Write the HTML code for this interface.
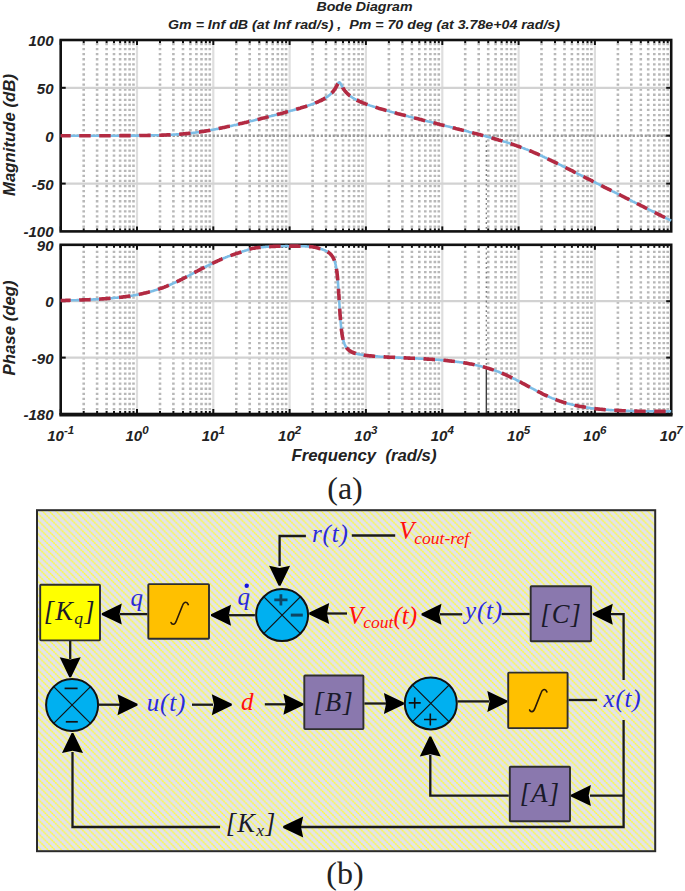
<!DOCTYPE html>
<html><head><meta charset="utf-8"><title>Bode and block diagram</title>
<style>html,body{margin:0;padding:0;background:#fff;width:685px;height:891px;overflow:hidden;}svg{display:block;}</style>
</head><body>
<svg width="685" height="891" viewBox="0 0 685 891">
<defs>
<pattern id="hatch" patternUnits="userSpaceOnUse" x="0.5" y="0" width="6.8" height="6.8">
<rect width="6.8" height="6.8" fill="#e3e3ea"/>
<path d="M-1 -1L7.8 7.8M-1 5.8L1 7.8M5.8 -1L7.8 1" stroke="#f4f47a" stroke-width="1.1"/>
<rect x="0.20" y="0.20" width="1.3" height="1.3" fill="#ffff30"/><rect x="1.90" y="1.90" width="1.3" height="1.3" fill="#ffff30"/><rect x="3.60" y="3.60" width="1.3" height="1.3" fill="#ffff30"/><rect x="5.30" y="5.30" width="1.3" height="1.3" fill="#ffff30"/>
</pattern>
</defs>
<style>
.mn{fill:none;stroke:#b8b8b8;stroke-width:2.6;stroke-dasharray:2.3 2.77;}
.mnd{stroke:#777;stroke-width:1.3;stroke-dasharray:1.8 3;}
.mj{stroke:#dedede;stroke-width:2.2;}
.mh{stroke:#d2d2d2;stroke-width:2.2;}
.zd{stroke:#9a9a9a;stroke-width:2.6;stroke-dasharray:2.2 1.8;}
.tk{stroke:#111;stroke-width:2;}
.fr{fill:none;stroke:#111;stroke-width:2.6;}
.cb{fill:none;stroke:#7dbde6;stroke-width:2.6;stroke-linejoin:round;}
.cr{fill:none;stroke:#b32a42;stroke-width:3.6;stroke-dasharray:11.5 8.5;stroke-dashoffset:1.5;}
text{font-family:"Liberation Sans",sans-serif;}
.tl{font-size:15px;font-weight:bold;font-style:italic;fill:#222;}
.sup{font-size:11.5px;}
.al{font-size:16.5px;font-weight:bold;font-style:italic;fill:#222;}
.tt{font-size:12.5px;font-weight:bold;font-style:italic;fill:#222;}
.cap{font-family:"Liberation Serif",serif;font-size:32px;fill:#222;}
.ln{fill:none;stroke:#1a1a1a;stroke-width:2.3;}
.ah{fill:#000;}
.xl{stroke:#111;stroke-width:1.2;}
.sg{stroke:#0a2a40;stroke-width:2.2;fill:none;}
.bl,.rd,.bk{font-family:"Liberation Serif",serif;font-style:italic;font-size:25px;}
.bl{fill:#2a2ad8;letter-spacing:0.8px;}
.rd{fill:#ff1010;}
.bk{fill:#1a1a2a;}
.ig{fill:none;stroke:#2a1a08;stroke-width:1.6;stroke-linecap:round;}
.lb{font-size:26.5px;letter-spacing:1.2px;}
.sb{font-size:17.5px;}
</style>
<rect width="685" height="891" fill="#fff"/>
<path d="M83.7 42.91V230.4M97.1 42.91V230.4M106.6 42.91V230.4M114.0 42.91V230.4M120.1 42.91V230.4M125.2 42.91V230.4M129.6 42.91V230.4M133.5 42.91V230.4M160.0 42.91V230.4M173.4 42.91V230.4M183.0 42.91V230.4M190.4 42.91V230.4M196.4 42.91V230.4M201.5 42.91V230.4M205.9 42.91V230.4M209.8 42.91V230.4M236.3 42.91V230.4M249.7 42.91V230.4M259.3 42.91V230.4M266.7 42.91V230.4M272.7 42.91V230.4M277.8 42.91V230.4M282.2 42.91V230.4M286.1 42.91V230.4M312.6 42.91V230.4M326.0 42.91V230.4M335.6 42.91V230.4M343.0 42.91V230.4M349.0 42.91V230.4M354.1 42.91V230.4M358.6 42.91V230.4M362.5 42.91V230.4M388.9 42.91V230.4M402.4 42.91V230.4M411.9 42.91V230.4M419.3 42.91V230.4M425.3 42.91V230.4M430.4 42.91V230.4M434.9 42.91V230.4M438.8 42.91V230.4M465.2 42.91V230.4M478.7 42.91V230.4M488.2 42.91V230.4M495.6 42.91V230.4M501.6 42.91V230.4M506.8 42.91V230.4M511.2 42.91V230.4M515.1 42.91V230.4M541.5 42.91V230.4M555.0 42.91V230.4M564.5 42.91V230.4M571.9 42.91V230.4M578.0 42.91V230.4M583.1 42.91V230.4M587.5 42.91V230.4M591.4 42.91V230.4M617.9 42.91V230.4M631.3 42.91V230.4M640.8 42.91V230.4M648.2 42.91V230.4M654.3 42.91V230.4M659.4 42.91V230.4M663.8 42.91V230.4M667.7 42.91V230.4" class="mn"/>
<line x1="137.0" y1="40.0" x2="137.0" y2="231.4" class="mj"/>
<line x1="213.3" y1="40.0" x2="213.3" y2="231.4" class="mj"/>
<line x1="289.6" y1="40.0" x2="289.6" y2="231.4" class="mj"/>
<line x1="365.9" y1="40.0" x2="365.9" y2="231.4" class="mj"/>
<line x1="442.3" y1="40.0" x2="442.3" y2="231.4" class="mj"/>
<line x1="518.6" y1="40.0" x2="518.6" y2="231.4" class="mj"/>
<line x1="594.9" y1="40.0" x2="594.9" y2="231.4" class="mj"/>
<line x1="60.7" y1="87.8" x2="671.2" y2="87.8" class="mh"/>
<line x1="60.7" y1="183.6" x2="671.2" y2="183.6" class="mh"/>
<line x1="60.7" y1="135.7" x2="671.2" y2="135.7" class="zd"/>
<line x1="60.7" y1="40.0" x2="60.7" y2="45.0" class="tk"/>
<line x1="60.7" y1="231.4" x2="60.7" y2="226.4" class="tk"/>
<line x1="83.7" y1="40.0" x2="83.7" y2="43.0" class="tk"/>
<line x1="83.7" y1="231.4" x2="83.7" y2="228.4" class="tk"/>
<line x1="97.1" y1="40.0" x2="97.1" y2="43.0" class="tk"/>
<line x1="97.1" y1="231.4" x2="97.1" y2="228.4" class="tk"/>
<line x1="106.6" y1="40.0" x2="106.6" y2="43.0" class="tk"/>
<line x1="106.6" y1="231.4" x2="106.6" y2="228.4" class="tk"/>
<line x1="114.0" y1="40.0" x2="114.0" y2="43.0" class="tk"/>
<line x1="114.0" y1="231.4" x2="114.0" y2="228.4" class="tk"/>
<line x1="120.1" y1="40.0" x2="120.1" y2="43.0" class="tk"/>
<line x1="120.1" y1="231.4" x2="120.1" y2="228.4" class="tk"/>
<line x1="125.2" y1="40.0" x2="125.2" y2="43.0" class="tk"/>
<line x1="125.2" y1="231.4" x2="125.2" y2="228.4" class="tk"/>
<line x1="129.6" y1="40.0" x2="129.6" y2="43.0" class="tk"/>
<line x1="129.6" y1="231.4" x2="129.6" y2="228.4" class="tk"/>
<line x1="133.5" y1="40.0" x2="133.5" y2="43.0" class="tk"/>
<line x1="133.5" y1="231.4" x2="133.5" y2="228.4" class="tk"/>
<line x1="137.0" y1="40.0" x2="137.0" y2="45.0" class="tk"/>
<line x1="137.0" y1="231.4" x2="137.0" y2="226.4" class="tk"/>
<line x1="160.0" y1="40.0" x2="160.0" y2="43.0" class="tk"/>
<line x1="160.0" y1="231.4" x2="160.0" y2="228.4" class="tk"/>
<line x1="173.4" y1="40.0" x2="173.4" y2="43.0" class="tk"/>
<line x1="173.4" y1="231.4" x2="173.4" y2="228.4" class="tk"/>
<line x1="183.0" y1="40.0" x2="183.0" y2="43.0" class="tk"/>
<line x1="183.0" y1="231.4" x2="183.0" y2="228.4" class="tk"/>
<line x1="190.4" y1="40.0" x2="190.4" y2="43.0" class="tk"/>
<line x1="190.4" y1="231.4" x2="190.4" y2="228.4" class="tk"/>
<line x1="196.4" y1="40.0" x2="196.4" y2="43.0" class="tk"/>
<line x1="196.4" y1="231.4" x2="196.4" y2="228.4" class="tk"/>
<line x1="201.5" y1="40.0" x2="201.5" y2="43.0" class="tk"/>
<line x1="201.5" y1="231.4" x2="201.5" y2="228.4" class="tk"/>
<line x1="205.9" y1="40.0" x2="205.9" y2="43.0" class="tk"/>
<line x1="205.9" y1="231.4" x2="205.9" y2="228.4" class="tk"/>
<line x1="209.8" y1="40.0" x2="209.8" y2="43.0" class="tk"/>
<line x1="209.8" y1="231.4" x2="209.8" y2="228.4" class="tk"/>
<line x1="213.3" y1="40.0" x2="213.3" y2="45.0" class="tk"/>
<line x1="213.3" y1="231.4" x2="213.3" y2="226.4" class="tk"/>
<line x1="236.3" y1="40.0" x2="236.3" y2="43.0" class="tk"/>
<line x1="236.3" y1="231.4" x2="236.3" y2="228.4" class="tk"/>
<line x1="249.7" y1="40.0" x2="249.7" y2="43.0" class="tk"/>
<line x1="249.7" y1="231.4" x2="249.7" y2="228.4" class="tk"/>
<line x1="259.3" y1="40.0" x2="259.3" y2="43.0" class="tk"/>
<line x1="259.3" y1="231.4" x2="259.3" y2="228.4" class="tk"/>
<line x1="266.7" y1="40.0" x2="266.7" y2="43.0" class="tk"/>
<line x1="266.7" y1="231.4" x2="266.7" y2="228.4" class="tk"/>
<line x1="272.7" y1="40.0" x2="272.7" y2="43.0" class="tk"/>
<line x1="272.7" y1="231.4" x2="272.7" y2="228.4" class="tk"/>
<line x1="277.8" y1="40.0" x2="277.8" y2="43.0" class="tk"/>
<line x1="277.8" y1="231.4" x2="277.8" y2="228.4" class="tk"/>
<line x1="282.2" y1="40.0" x2="282.2" y2="43.0" class="tk"/>
<line x1="282.2" y1="231.4" x2="282.2" y2="228.4" class="tk"/>
<line x1="286.1" y1="40.0" x2="286.1" y2="43.0" class="tk"/>
<line x1="286.1" y1="231.4" x2="286.1" y2="228.4" class="tk"/>
<line x1="289.6" y1="40.0" x2="289.6" y2="45.0" class="tk"/>
<line x1="289.6" y1="231.4" x2="289.6" y2="226.4" class="tk"/>
<line x1="312.6" y1="40.0" x2="312.6" y2="43.0" class="tk"/>
<line x1="312.6" y1="231.4" x2="312.6" y2="228.4" class="tk"/>
<line x1="326.0" y1="40.0" x2="326.0" y2="43.0" class="tk"/>
<line x1="326.0" y1="231.4" x2="326.0" y2="228.4" class="tk"/>
<line x1="335.6" y1="40.0" x2="335.6" y2="43.0" class="tk"/>
<line x1="335.6" y1="231.4" x2="335.6" y2="228.4" class="tk"/>
<line x1="343.0" y1="40.0" x2="343.0" y2="43.0" class="tk"/>
<line x1="343.0" y1="231.4" x2="343.0" y2="228.4" class="tk"/>
<line x1="349.0" y1="40.0" x2="349.0" y2="43.0" class="tk"/>
<line x1="349.0" y1="231.4" x2="349.0" y2="228.4" class="tk"/>
<line x1="354.1" y1="40.0" x2="354.1" y2="43.0" class="tk"/>
<line x1="354.1" y1="231.4" x2="354.1" y2="228.4" class="tk"/>
<line x1="358.6" y1="40.0" x2="358.6" y2="43.0" class="tk"/>
<line x1="358.6" y1="231.4" x2="358.6" y2="228.4" class="tk"/>
<line x1="362.5" y1="40.0" x2="362.5" y2="43.0" class="tk"/>
<line x1="362.5" y1="231.4" x2="362.5" y2="228.4" class="tk"/>
<line x1="365.9" y1="40.0" x2="365.9" y2="45.0" class="tk"/>
<line x1="365.9" y1="231.4" x2="365.9" y2="226.4" class="tk"/>
<line x1="388.9" y1="40.0" x2="388.9" y2="43.0" class="tk"/>
<line x1="388.9" y1="231.4" x2="388.9" y2="228.4" class="tk"/>
<line x1="402.4" y1="40.0" x2="402.4" y2="43.0" class="tk"/>
<line x1="402.4" y1="231.4" x2="402.4" y2="228.4" class="tk"/>
<line x1="411.9" y1="40.0" x2="411.9" y2="43.0" class="tk"/>
<line x1="411.9" y1="231.4" x2="411.9" y2="228.4" class="tk"/>
<line x1="419.3" y1="40.0" x2="419.3" y2="43.0" class="tk"/>
<line x1="419.3" y1="231.4" x2="419.3" y2="228.4" class="tk"/>
<line x1="425.3" y1="40.0" x2="425.3" y2="43.0" class="tk"/>
<line x1="425.3" y1="231.4" x2="425.3" y2="228.4" class="tk"/>
<line x1="430.4" y1="40.0" x2="430.4" y2="43.0" class="tk"/>
<line x1="430.4" y1="231.4" x2="430.4" y2="228.4" class="tk"/>
<line x1="434.9" y1="40.0" x2="434.9" y2="43.0" class="tk"/>
<line x1="434.9" y1="231.4" x2="434.9" y2="228.4" class="tk"/>
<line x1="438.8" y1="40.0" x2="438.8" y2="43.0" class="tk"/>
<line x1="438.8" y1="231.4" x2="438.8" y2="228.4" class="tk"/>
<line x1="442.3" y1="40.0" x2="442.3" y2="45.0" class="tk"/>
<line x1="442.3" y1="231.4" x2="442.3" y2="226.4" class="tk"/>
<line x1="465.2" y1="40.0" x2="465.2" y2="43.0" class="tk"/>
<line x1="465.2" y1="231.4" x2="465.2" y2="228.4" class="tk"/>
<line x1="478.7" y1="40.0" x2="478.7" y2="43.0" class="tk"/>
<line x1="478.7" y1="231.4" x2="478.7" y2="228.4" class="tk"/>
<line x1="488.2" y1="40.0" x2="488.2" y2="43.0" class="tk"/>
<line x1="488.2" y1="231.4" x2="488.2" y2="228.4" class="tk"/>
<line x1="495.6" y1="40.0" x2="495.6" y2="43.0" class="tk"/>
<line x1="495.6" y1="231.4" x2="495.6" y2="228.4" class="tk"/>
<line x1="501.6" y1="40.0" x2="501.6" y2="43.0" class="tk"/>
<line x1="501.6" y1="231.4" x2="501.6" y2="228.4" class="tk"/>
<line x1="506.8" y1="40.0" x2="506.8" y2="43.0" class="tk"/>
<line x1="506.8" y1="231.4" x2="506.8" y2="228.4" class="tk"/>
<line x1="511.2" y1="40.0" x2="511.2" y2="43.0" class="tk"/>
<line x1="511.2" y1="231.4" x2="511.2" y2="228.4" class="tk"/>
<line x1="515.1" y1="40.0" x2="515.1" y2="43.0" class="tk"/>
<line x1="515.1" y1="231.4" x2="515.1" y2="228.4" class="tk"/>
<line x1="518.6" y1="40.0" x2="518.6" y2="45.0" class="tk"/>
<line x1="518.6" y1="231.4" x2="518.6" y2="226.4" class="tk"/>
<line x1="541.5" y1="40.0" x2="541.5" y2="43.0" class="tk"/>
<line x1="541.5" y1="231.4" x2="541.5" y2="228.4" class="tk"/>
<line x1="555.0" y1="40.0" x2="555.0" y2="43.0" class="tk"/>
<line x1="555.0" y1="231.4" x2="555.0" y2="228.4" class="tk"/>
<line x1="564.5" y1="40.0" x2="564.5" y2="43.0" class="tk"/>
<line x1="564.5" y1="231.4" x2="564.5" y2="228.4" class="tk"/>
<line x1="571.9" y1="40.0" x2="571.9" y2="43.0" class="tk"/>
<line x1="571.9" y1="231.4" x2="571.9" y2="228.4" class="tk"/>
<line x1="578.0" y1="40.0" x2="578.0" y2="43.0" class="tk"/>
<line x1="578.0" y1="231.4" x2="578.0" y2="228.4" class="tk"/>
<line x1="583.1" y1="40.0" x2="583.1" y2="43.0" class="tk"/>
<line x1="583.1" y1="231.4" x2="583.1" y2="228.4" class="tk"/>
<line x1="587.5" y1="40.0" x2="587.5" y2="43.0" class="tk"/>
<line x1="587.5" y1="231.4" x2="587.5" y2="228.4" class="tk"/>
<line x1="591.4" y1="40.0" x2="591.4" y2="43.0" class="tk"/>
<line x1="591.4" y1="231.4" x2="591.4" y2="228.4" class="tk"/>
<line x1="594.9" y1="40.0" x2="594.9" y2="45.0" class="tk"/>
<line x1="594.9" y1="231.4" x2="594.9" y2="226.4" class="tk"/>
<line x1="617.9" y1="40.0" x2="617.9" y2="43.0" class="tk"/>
<line x1="617.9" y1="231.4" x2="617.9" y2="228.4" class="tk"/>
<line x1="631.3" y1="40.0" x2="631.3" y2="43.0" class="tk"/>
<line x1="631.3" y1="231.4" x2="631.3" y2="228.4" class="tk"/>
<line x1="640.8" y1="40.0" x2="640.8" y2="43.0" class="tk"/>
<line x1="640.8" y1="231.4" x2="640.8" y2="228.4" class="tk"/>
<line x1="648.2" y1="40.0" x2="648.2" y2="43.0" class="tk"/>
<line x1="648.2" y1="231.4" x2="648.2" y2="228.4" class="tk"/>
<line x1="654.3" y1="40.0" x2="654.3" y2="43.0" class="tk"/>
<line x1="654.3" y1="231.4" x2="654.3" y2="228.4" class="tk"/>
<line x1="659.4" y1="40.0" x2="659.4" y2="43.0" class="tk"/>
<line x1="659.4" y1="231.4" x2="659.4" y2="228.4" class="tk"/>
<line x1="663.8" y1="40.0" x2="663.8" y2="43.0" class="tk"/>
<line x1="663.8" y1="231.4" x2="663.8" y2="228.4" class="tk"/>
<line x1="667.7" y1="40.0" x2="667.7" y2="43.0" class="tk"/>
<line x1="667.7" y1="231.4" x2="667.7" y2="228.4" class="tk"/>
<line x1="60.7" y1="87.8" x2="65.7" y2="87.8" class="tk"/>
<line x1="671.2" y1="87.8" x2="666.2" y2="87.8" class="tk"/>
<line x1="60.7" y1="135.7" x2="65.7" y2="135.7" class="tk"/>
<line x1="671.2" y1="135.7" x2="666.2" y2="135.7" class="tk"/>
<line x1="60.7" y1="183.6" x2="65.7" y2="183.6" class="tk"/>
<line x1="671.2" y1="183.6" x2="666.2" y2="183.6" class="tk"/>
<path d="M83.7 250.73V413.0M97.1 250.73V413.0M106.6 250.73V413.0M114.0 250.73V413.0M120.1 250.73V413.0M125.2 250.73V413.0M129.6 250.73V413.0M133.5 250.73V413.0M160.0 250.73V413.0M173.4 250.73V413.0M183.0 250.73V413.0M190.4 250.73V413.0M196.4 250.73V413.0M201.5 250.73V413.0M205.9 250.73V413.0M209.8 250.73V413.0M236.3 250.73V413.0M249.7 250.73V413.0M259.3 250.73V413.0M266.7 250.73V413.0M272.7 250.73V413.0M277.8 250.73V413.0M282.2 250.73V413.0M286.1 250.73V413.0M312.6 250.73V413.0M326.0 250.73V413.0M335.6 250.73V413.0M343.0 250.73V413.0M349.0 250.73V413.0M354.1 250.73V413.0M358.6 250.73V413.0M362.5 250.73V413.0M388.9 250.73V413.0M402.4 250.73V413.0M411.9 250.73V413.0M419.3 250.73V413.0M425.3 250.73V413.0M430.4 250.73V413.0M434.9 250.73V413.0M438.8 250.73V413.0M465.2 250.73V413.0M478.7 250.73V413.0M488.2 250.73V413.0M495.6 250.73V413.0M501.6 250.73V413.0M506.8 250.73V413.0M511.2 250.73V413.0M515.1 250.73V413.0M541.5 250.73V413.0M555.0 250.73V413.0M564.5 250.73V413.0M571.9 250.73V413.0M578.0 250.73V413.0M583.1 250.73V413.0M587.5 250.73V413.0M591.4 250.73V413.0M617.9 250.73V413.0M631.3 250.73V413.0M640.8 250.73V413.0M648.2 250.73V413.0M654.3 250.73V413.0M659.4 250.73V413.0M663.8 250.73V413.0M667.7 250.73V413.0" class="mn"/>
<line x1="137.0" y1="244.8" x2="137.0" y2="414.0" class="mj"/>
<line x1="213.3" y1="244.8" x2="213.3" y2="414.0" class="mj"/>
<line x1="289.6" y1="244.8" x2="289.6" y2="414.0" class="mj"/>
<line x1="365.9" y1="244.8" x2="365.9" y2="414.0" class="mj"/>
<line x1="442.3" y1="244.8" x2="442.3" y2="414.0" class="mj"/>
<line x1="518.6" y1="244.8" x2="518.6" y2="414.0" class="mj"/>
<line x1="594.9" y1="244.8" x2="594.9" y2="414.0" class="mj"/>
<line x1="60.7" y1="301.2" x2="671.2" y2="301.2" class="mh"/>
<line x1="60.7" y1="357.6" x2="671.2" y2="357.6" class="mh"/>
<line x1="60.7" y1="244.8" x2="60.7" y2="249.8" class="tk"/>
<line x1="60.7" y1="414.0" x2="60.7" y2="409.0" class="tk"/>
<line x1="83.7" y1="244.8" x2="83.7" y2="247.8" class="tk"/>
<line x1="83.7" y1="414.0" x2="83.7" y2="411.0" class="tk"/>
<line x1="97.1" y1="244.8" x2="97.1" y2="247.8" class="tk"/>
<line x1="97.1" y1="414.0" x2="97.1" y2="411.0" class="tk"/>
<line x1="106.6" y1="244.8" x2="106.6" y2="247.8" class="tk"/>
<line x1="106.6" y1="414.0" x2="106.6" y2="411.0" class="tk"/>
<line x1="114.0" y1="244.8" x2="114.0" y2="247.8" class="tk"/>
<line x1="114.0" y1="414.0" x2="114.0" y2="411.0" class="tk"/>
<line x1="120.1" y1="244.8" x2="120.1" y2="247.8" class="tk"/>
<line x1="120.1" y1="414.0" x2="120.1" y2="411.0" class="tk"/>
<line x1="125.2" y1="244.8" x2="125.2" y2="247.8" class="tk"/>
<line x1="125.2" y1="414.0" x2="125.2" y2="411.0" class="tk"/>
<line x1="129.6" y1="244.8" x2="129.6" y2="247.8" class="tk"/>
<line x1="129.6" y1="414.0" x2="129.6" y2="411.0" class="tk"/>
<line x1="133.5" y1="244.8" x2="133.5" y2="247.8" class="tk"/>
<line x1="133.5" y1="414.0" x2="133.5" y2="411.0" class="tk"/>
<line x1="137.0" y1="244.8" x2="137.0" y2="249.8" class="tk"/>
<line x1="137.0" y1="414.0" x2="137.0" y2="409.0" class="tk"/>
<line x1="160.0" y1="244.8" x2="160.0" y2="247.8" class="tk"/>
<line x1="160.0" y1="414.0" x2="160.0" y2="411.0" class="tk"/>
<line x1="173.4" y1="244.8" x2="173.4" y2="247.8" class="tk"/>
<line x1="173.4" y1="414.0" x2="173.4" y2="411.0" class="tk"/>
<line x1="183.0" y1="244.8" x2="183.0" y2="247.8" class="tk"/>
<line x1="183.0" y1="414.0" x2="183.0" y2="411.0" class="tk"/>
<line x1="190.4" y1="244.8" x2="190.4" y2="247.8" class="tk"/>
<line x1="190.4" y1="414.0" x2="190.4" y2="411.0" class="tk"/>
<line x1="196.4" y1="244.8" x2="196.4" y2="247.8" class="tk"/>
<line x1="196.4" y1="414.0" x2="196.4" y2="411.0" class="tk"/>
<line x1="201.5" y1="244.8" x2="201.5" y2="247.8" class="tk"/>
<line x1="201.5" y1="414.0" x2="201.5" y2="411.0" class="tk"/>
<line x1="205.9" y1="244.8" x2="205.9" y2="247.8" class="tk"/>
<line x1="205.9" y1="414.0" x2="205.9" y2="411.0" class="tk"/>
<line x1="209.8" y1="244.8" x2="209.8" y2="247.8" class="tk"/>
<line x1="209.8" y1="414.0" x2="209.8" y2="411.0" class="tk"/>
<line x1="213.3" y1="244.8" x2="213.3" y2="249.8" class="tk"/>
<line x1="213.3" y1="414.0" x2="213.3" y2="409.0" class="tk"/>
<line x1="236.3" y1="244.8" x2="236.3" y2="247.8" class="tk"/>
<line x1="236.3" y1="414.0" x2="236.3" y2="411.0" class="tk"/>
<line x1="249.7" y1="244.8" x2="249.7" y2="247.8" class="tk"/>
<line x1="249.7" y1="414.0" x2="249.7" y2="411.0" class="tk"/>
<line x1="259.3" y1="244.8" x2="259.3" y2="247.8" class="tk"/>
<line x1="259.3" y1="414.0" x2="259.3" y2="411.0" class="tk"/>
<line x1="266.7" y1="244.8" x2="266.7" y2="247.8" class="tk"/>
<line x1="266.7" y1="414.0" x2="266.7" y2="411.0" class="tk"/>
<line x1="272.7" y1="244.8" x2="272.7" y2="247.8" class="tk"/>
<line x1="272.7" y1="414.0" x2="272.7" y2="411.0" class="tk"/>
<line x1="277.8" y1="244.8" x2="277.8" y2="247.8" class="tk"/>
<line x1="277.8" y1="414.0" x2="277.8" y2="411.0" class="tk"/>
<line x1="282.2" y1="244.8" x2="282.2" y2="247.8" class="tk"/>
<line x1="282.2" y1="414.0" x2="282.2" y2="411.0" class="tk"/>
<line x1="286.1" y1="244.8" x2="286.1" y2="247.8" class="tk"/>
<line x1="286.1" y1="414.0" x2="286.1" y2="411.0" class="tk"/>
<line x1="289.6" y1="244.8" x2="289.6" y2="249.8" class="tk"/>
<line x1="289.6" y1="414.0" x2="289.6" y2="409.0" class="tk"/>
<line x1="312.6" y1="244.8" x2="312.6" y2="247.8" class="tk"/>
<line x1="312.6" y1="414.0" x2="312.6" y2="411.0" class="tk"/>
<line x1="326.0" y1="244.8" x2="326.0" y2="247.8" class="tk"/>
<line x1="326.0" y1="414.0" x2="326.0" y2="411.0" class="tk"/>
<line x1="335.6" y1="244.8" x2="335.6" y2="247.8" class="tk"/>
<line x1="335.6" y1="414.0" x2="335.6" y2="411.0" class="tk"/>
<line x1="343.0" y1="244.8" x2="343.0" y2="247.8" class="tk"/>
<line x1="343.0" y1="414.0" x2="343.0" y2="411.0" class="tk"/>
<line x1="349.0" y1="244.8" x2="349.0" y2="247.8" class="tk"/>
<line x1="349.0" y1="414.0" x2="349.0" y2="411.0" class="tk"/>
<line x1="354.1" y1="244.8" x2="354.1" y2="247.8" class="tk"/>
<line x1="354.1" y1="414.0" x2="354.1" y2="411.0" class="tk"/>
<line x1="358.6" y1="244.8" x2="358.6" y2="247.8" class="tk"/>
<line x1="358.6" y1="414.0" x2="358.6" y2="411.0" class="tk"/>
<line x1="362.5" y1="244.8" x2="362.5" y2="247.8" class="tk"/>
<line x1="362.5" y1="414.0" x2="362.5" y2="411.0" class="tk"/>
<line x1="365.9" y1="244.8" x2="365.9" y2="249.8" class="tk"/>
<line x1="365.9" y1="414.0" x2="365.9" y2="409.0" class="tk"/>
<line x1="388.9" y1="244.8" x2="388.9" y2="247.8" class="tk"/>
<line x1="388.9" y1="414.0" x2="388.9" y2="411.0" class="tk"/>
<line x1="402.4" y1="244.8" x2="402.4" y2="247.8" class="tk"/>
<line x1="402.4" y1="414.0" x2="402.4" y2="411.0" class="tk"/>
<line x1="411.9" y1="244.8" x2="411.9" y2="247.8" class="tk"/>
<line x1="411.9" y1="414.0" x2="411.9" y2="411.0" class="tk"/>
<line x1="419.3" y1="244.8" x2="419.3" y2="247.8" class="tk"/>
<line x1="419.3" y1="414.0" x2="419.3" y2="411.0" class="tk"/>
<line x1="425.3" y1="244.8" x2="425.3" y2="247.8" class="tk"/>
<line x1="425.3" y1="414.0" x2="425.3" y2="411.0" class="tk"/>
<line x1="430.4" y1="244.8" x2="430.4" y2="247.8" class="tk"/>
<line x1="430.4" y1="414.0" x2="430.4" y2="411.0" class="tk"/>
<line x1="434.9" y1="244.8" x2="434.9" y2="247.8" class="tk"/>
<line x1="434.9" y1="414.0" x2="434.9" y2="411.0" class="tk"/>
<line x1="438.8" y1="244.8" x2="438.8" y2="247.8" class="tk"/>
<line x1="438.8" y1="414.0" x2="438.8" y2="411.0" class="tk"/>
<line x1="442.3" y1="244.8" x2="442.3" y2="249.8" class="tk"/>
<line x1="442.3" y1="414.0" x2="442.3" y2="409.0" class="tk"/>
<line x1="465.2" y1="244.8" x2="465.2" y2="247.8" class="tk"/>
<line x1="465.2" y1="414.0" x2="465.2" y2="411.0" class="tk"/>
<line x1="478.7" y1="244.8" x2="478.7" y2="247.8" class="tk"/>
<line x1="478.7" y1="414.0" x2="478.7" y2="411.0" class="tk"/>
<line x1="488.2" y1="244.8" x2="488.2" y2="247.8" class="tk"/>
<line x1="488.2" y1="414.0" x2="488.2" y2="411.0" class="tk"/>
<line x1="495.6" y1="244.8" x2="495.6" y2="247.8" class="tk"/>
<line x1="495.6" y1="414.0" x2="495.6" y2="411.0" class="tk"/>
<line x1="501.6" y1="244.8" x2="501.6" y2="247.8" class="tk"/>
<line x1="501.6" y1="414.0" x2="501.6" y2="411.0" class="tk"/>
<line x1="506.8" y1="244.8" x2="506.8" y2="247.8" class="tk"/>
<line x1="506.8" y1="414.0" x2="506.8" y2="411.0" class="tk"/>
<line x1="511.2" y1="244.8" x2="511.2" y2="247.8" class="tk"/>
<line x1="511.2" y1="414.0" x2="511.2" y2="411.0" class="tk"/>
<line x1="515.1" y1="244.8" x2="515.1" y2="247.8" class="tk"/>
<line x1="515.1" y1="414.0" x2="515.1" y2="411.0" class="tk"/>
<line x1="518.6" y1="244.8" x2="518.6" y2="249.8" class="tk"/>
<line x1="518.6" y1="414.0" x2="518.6" y2="409.0" class="tk"/>
<line x1="541.5" y1="244.8" x2="541.5" y2="247.8" class="tk"/>
<line x1="541.5" y1="414.0" x2="541.5" y2="411.0" class="tk"/>
<line x1="555.0" y1="244.8" x2="555.0" y2="247.8" class="tk"/>
<line x1="555.0" y1="414.0" x2="555.0" y2="411.0" class="tk"/>
<line x1="564.5" y1="244.8" x2="564.5" y2="247.8" class="tk"/>
<line x1="564.5" y1="414.0" x2="564.5" y2="411.0" class="tk"/>
<line x1="571.9" y1="244.8" x2="571.9" y2="247.8" class="tk"/>
<line x1="571.9" y1="414.0" x2="571.9" y2="411.0" class="tk"/>
<line x1="578.0" y1="244.8" x2="578.0" y2="247.8" class="tk"/>
<line x1="578.0" y1="414.0" x2="578.0" y2="411.0" class="tk"/>
<line x1="583.1" y1="244.8" x2="583.1" y2="247.8" class="tk"/>
<line x1="583.1" y1="414.0" x2="583.1" y2="411.0" class="tk"/>
<line x1="587.5" y1="244.8" x2="587.5" y2="247.8" class="tk"/>
<line x1="587.5" y1="414.0" x2="587.5" y2="411.0" class="tk"/>
<line x1="591.4" y1="244.8" x2="591.4" y2="247.8" class="tk"/>
<line x1="591.4" y1="414.0" x2="591.4" y2="411.0" class="tk"/>
<line x1="594.9" y1="244.8" x2="594.9" y2="249.8" class="tk"/>
<line x1="594.9" y1="414.0" x2="594.9" y2="409.0" class="tk"/>
<line x1="617.9" y1="244.8" x2="617.9" y2="247.8" class="tk"/>
<line x1="617.9" y1="414.0" x2="617.9" y2="411.0" class="tk"/>
<line x1="631.3" y1="244.8" x2="631.3" y2="247.8" class="tk"/>
<line x1="631.3" y1="414.0" x2="631.3" y2="411.0" class="tk"/>
<line x1="640.8" y1="244.8" x2="640.8" y2="247.8" class="tk"/>
<line x1="640.8" y1="414.0" x2="640.8" y2="411.0" class="tk"/>
<line x1="648.2" y1="244.8" x2="648.2" y2="247.8" class="tk"/>
<line x1="648.2" y1="414.0" x2="648.2" y2="411.0" class="tk"/>
<line x1="654.3" y1="244.8" x2="654.3" y2="247.8" class="tk"/>
<line x1="654.3" y1="414.0" x2="654.3" y2="411.0" class="tk"/>
<line x1="659.4" y1="244.8" x2="659.4" y2="247.8" class="tk"/>
<line x1="659.4" y1="414.0" x2="659.4" y2="411.0" class="tk"/>
<line x1="663.8" y1="244.8" x2="663.8" y2="247.8" class="tk"/>
<line x1="663.8" y1="414.0" x2="663.8" y2="411.0" class="tk"/>
<line x1="667.7" y1="244.8" x2="667.7" y2="247.8" class="tk"/>
<line x1="667.7" y1="414.0" x2="667.7" y2="411.0" class="tk"/>
<line x1="60.7" y1="301.2" x2="65.7" y2="301.2" class="tk"/>
<line x1="671.2" y1="301.2" x2="666.2" y2="301.2" class="tk"/>
<line x1="60.7" y1="357.6" x2="65.7" y2="357.6" class="tk"/>
<line x1="671.2" y1="357.6" x2="666.2" y2="357.6" class="tk"/>
<line x1="486.3" y1="135.7" x2="486.3" y2="231.4" class="mnd"/>
<line x1="486.3" y1="247.8" x2="486.3" y2="367.7" class="mnd"/>
<line x1="486.3" y1="367.7" x2="486.3" y2="414.0" stroke="#333" stroke-width="1.3"/>
<rect x="60.7" y="40.0" width="610.5" height="191.4" class="fr"/>
<rect x="60.7" y="244.8" width="610.5" height="169.2" class="fr"/>
<line x1="59.4" y1="414.7" x2="672.5" y2="414.7" stroke="#111" stroke-width="3.4"/>
<polyline points="60.7,135.7 61.6,135.7 62.4,135.7 63.3,135.7 64.2,135.7 65.0,135.7 65.9,135.7 66.8,135.7 67.6,135.7 68.5,135.7 69.3,135.7 70.2,135.7 71.1,135.7 71.9,135.7 72.8,135.7 73.7,135.7 74.5,135.7 75.4,135.7 76.3,135.7 77.1,135.7 78.0,135.7 78.9,135.7 79.7,135.7 80.6,135.7 81.5,135.7 82.3,135.7 83.2,135.7 84.1,135.7 84.9,135.7 85.8,135.7 86.6,135.7 87.5,135.7 88.4,135.7 89.2,135.7 90.1,135.7 91.0,135.7 91.8,135.7 92.7,135.7 93.6,135.7 94.4,135.7 95.3,135.7 96.2,135.7 97.0,135.7 97.9,135.7 98.8,135.7 99.6,135.7 100.5,135.7 101.3,135.7 102.2,135.7 103.1,135.7 103.9,135.7 104.8,135.7 105.7,135.7 106.5,135.7 107.4,135.7 108.3,135.7 109.1,135.7 110.0,135.7 110.9,135.7 111.7,135.7 112.6,135.7 113.5,135.7 114.3,135.7 115.2,135.7 116.1,135.7 116.9,135.7 117.8,135.7 118.6,135.7 119.5,135.7 120.4,135.6 121.2,135.6 122.1,135.6 123.0,135.6 123.8,135.6 124.7,135.6 125.6,135.6 126.4,135.6 127.3,135.6 128.2,135.6 129.0,135.6 129.9,135.6 130.8,135.6 131.6,135.6 132.5,135.6 133.3,135.6 134.2,135.6 135.1,135.6 135.9,135.6 136.8,135.6 137.7,135.6 138.5,135.6 139.4,135.5 140.3,135.5 141.1,135.5 142.0,135.5 142.9,135.5 143.7,135.5 144.6,135.5 145.5,135.5 146.3,135.5 147.2,135.5 148.1,135.4 148.9,135.4 149.8,135.4 150.6,135.4 151.5,135.4 152.4,135.4 153.2,135.3 154.1,135.3 155.0,135.3 155.8,135.3 156.7,135.3 157.6,135.3 158.4,135.2 159.3,135.2 160.2,135.2 161.0,135.2 161.9,135.1 162.8,135.1 163.6,135.1 164.5,135.0 165.3,135.0 166.2,135.0 167.1,134.9 167.9,134.9 168.8,134.9 169.7,134.8 170.5,134.8 171.4,134.7 172.3,134.7 173.1,134.6 174.0,134.6 174.9,134.5 175.7,134.5 176.6,134.4 177.5,134.4 178.3,134.3 179.2,134.2 180.1,134.2 180.9,134.1 181.8,134.0 182.6,134.0 183.5,133.9 184.4,133.8 185.2,133.7 186.1,133.6 187.0,133.6 187.8,133.5 188.7,133.4 189.6,133.3 190.4,133.2 191.3,133.1 192.2,133.0 193.0,132.9 193.9,132.8 194.8,132.7 195.6,132.5 196.5,132.4 197.4,132.3 198.2,132.2 199.1,132.1 199.9,131.9 200.8,131.8 201.7,131.7 202.5,131.5 203.4,131.4 204.3,131.3 205.1,131.1 206.0,131.0 206.9,130.8 207.7,130.7 208.6,130.5 209.5,130.4 210.3,130.2 211.2,130.0 212.1,129.9 212.9,129.7 213.8,129.5 214.6,129.4 215.5,129.2 216.4,129.0 217.2,128.9 218.1,128.7 219.0,128.5 219.8,128.3 220.7,128.1 221.6,128.0 222.4,127.8 223.3,127.6 224.2,127.4 225.0,127.2 225.9,127.0 226.8,126.8 227.6,126.6 228.5,126.4 229.4,126.2 230.2,126.1 231.1,125.9 231.9,125.7 232.8,125.5 233.7,125.3 234.5,125.1 235.4,124.9 236.3,124.7 237.1,124.5 238.0,124.2 238.9,124.0 239.7,123.8 240.6,123.6 241.5,123.4 242.3,123.2 243.2,123.0 244.1,122.8 244.9,122.6 245.8,122.4 246.6,122.2 247.5,122.0 248.4,121.8 249.2,121.5 250.1,121.3 251.0,121.1 251.8,120.9 252.7,120.7 253.6,120.5 254.4,120.3 255.3,120.1 256.2,119.8 257.0,119.6 257.9,119.4 258.8,119.2 259.6,119.0 260.5,118.8 261.4,118.5 262.2,118.3 263.1,118.1 263.9,117.9 264.8,117.7 265.7,117.4 266.5,117.2 267.4,117.0 268.3,116.8 269.1,116.6 270.0,116.3 270.9,116.1 271.7,115.9 272.6,115.7 273.5,115.5 274.3,115.2 275.2,115.0 276.1,114.8 276.9,114.6 277.8,114.3 278.6,114.1 279.5,113.9 280.4,113.7 281.2,113.4 282.1,113.2 283.0,113.0 283.8,112.7 284.7,112.5 285.6,112.3 286.4,112.0 287.3,111.8 288.2,111.6 289.0,111.3 289.9,111.1 290.8,110.8 291.6,110.6 292.5,110.4 293.4,110.1 294.2,109.9 295.1,109.6 295.9,109.4 296.8,109.1 297.7,108.9 298.5,108.6 299.4,108.4 300.3,108.1 301.1,107.8 302.0,107.6 302.9,107.3 303.7,107.0 304.6,106.8 305.5,106.5 306.3,106.2 307.2,105.9 308.1,105.6 308.9,105.3 309.8,105.0 310.6,104.7 311.5,104.4 312.4,104.1 313.2,103.8 314.1,103.4 315.0,103.1 315.8,102.7 316.7,102.4 317.6,102.0 318.4,101.6 319.3,101.2 320.2,100.8 320.3,100.8 320.4,100.7 320.5,100.6 320.7,100.6 320.8,100.5 320.9,100.5 321.1,100.4 321.2,100.3 321.3,100.3 321.4,100.2 321.6,100.1 321.7,100.1 321.8,100.0 321.9,99.9 322.1,99.9 322.2,99.8 322.3,99.7 322.5,99.7 322.6,99.6 322.7,99.5 322.8,99.5 323.0,99.4 323.1,99.3 323.2,99.3 323.3,99.2 323.5,99.1 323.6,99.1 323.7,99.0 323.9,98.9 324.0,98.8 324.1,98.8 324.2,98.7 324.4,98.6 324.5,98.5 324.6,98.5 324.7,98.4 324.9,98.3 325.0,98.2 325.1,98.2 325.2,98.1 325.4,98.0 325.5,97.9 325.6,97.9 325.8,97.8 325.9,97.7 326.0,97.6 326.1,97.5 326.3,97.4 326.4,97.4 326.5,97.3 326.6,97.2 326.8,97.1 326.9,97.0 327.0,96.9 327.2,96.8 327.3,96.8 327.4,96.7 327.5,96.6 327.7,96.5 327.8,96.4 327.9,96.3 328.0,96.2 328.2,96.1 328.3,96.0 328.4,95.9 328.6,95.8 328.7,95.7 328.8,95.6 328.9,95.5 329.1,95.4 329.2,95.3 329.3,95.2 329.4,95.1 329.6,95.0 329.7,94.9 329.8,94.8 330.0,94.7 330.1,94.6 330.2,94.5 330.3,94.3 330.5,94.2 330.6,94.1 330.7,94.0 330.8,93.9 331.0,93.7 331.1,93.6 331.2,93.5 331.4,93.4 331.5,93.2 331.6,93.1 331.7,93.0 331.9,92.9 332.0,92.7 332.1,92.6 332.2,92.4 332.4,92.3 332.5,92.2 332.6,92.0 332.8,91.9 332.9,91.7 333.0,91.6 333.1,91.4 333.3,91.3 333.4,91.1 333.5,90.9 333.6,90.8 333.8,90.6 333.9,90.4 334.0,90.3 334.2,90.1 334.3,89.9 334.4,89.7 334.5,89.5 334.7,89.4 334.8,89.2 334.9,89.0 335.0,88.8 335.2,88.6 335.3,88.4 335.4,88.2 335.6,88.0 335.7,87.7 335.8,87.5 335.9,87.3 336.1,87.1 336.2,86.9 336.3,86.6 336.4,86.4 336.6,86.2 336.7,85.9 336.8,85.7 337.0,85.4 337.1,85.2 337.2,84.9 337.3,84.7 337.5,84.5 337.6,84.2 337.7,84.0 337.8,83.8 338.0,83.6 338.1,83.4 338.2,83.2 338.4,83.0 338.5,82.8 338.6,82.7 338.7,82.5 338.9,82.5 339.0,82.4 339.1,82.3 339.2,82.3 339.4,82.3 339.5,82.4 339.6,82.4 339.7,82.5 339.9,82.6 340.0,82.8 340.1,82.9 340.3,83.1 340.4,83.3 340.5,83.5 340.6,83.7 340.8,83.9 340.9,84.1 341.0,84.4 341.1,84.6 341.3,84.9 341.4,85.1 341.5,85.3 341.7,85.6 341.8,85.8 341.9,86.1 342.0,86.3 342.2,86.5 342.3,86.8 342.4,87.0 342.5,87.2 342.7,87.4 342.8,87.7 342.9,87.9 343.1,88.1 343.2,88.3 343.3,88.5 343.4,88.7 343.6,88.9 343.7,89.1 343.8,89.3 343.9,89.5 344.1,89.7 344.2,89.8 344.3,90.0 344.5,90.2 344.6,90.4 344.7,90.5 344.8,90.7 345.0,90.9 345.1,91.0 345.2,91.2 345.3,91.4 345.5,91.5 345.6,91.7 345.7,91.8 345.9,92.0 346.0,92.1 346.1,92.3 346.2,92.4 346.4,92.5 346.5,92.7 346.6,92.8 346.7,92.9 346.9,93.1 347.0,93.2 347.1,93.3 347.3,93.5 347.4,93.6 347.5,93.7 347.6,93.8 347.8,93.9 347.9,94.1 348.0,94.2 348.1,94.3 348.3,94.4 348.4,94.5 348.5,94.6 348.7,94.7 348.8,94.9 348.9,95.0 349.0,95.1 349.2,95.2 349.3,95.3 349.4,95.4 349.5,95.5 349.7,95.6 349.8,95.7 349.9,95.8 350.1,95.9 350.2,96.0 350.3,96.1 350.4,96.2 350.6,96.3 350.7,96.4 350.8,96.5 350.9,96.5 351.1,96.6 351.2,96.7 351.3,96.8 351.5,96.9 351.6,97.0 351.7,97.1 351.8,97.2 352.0,97.2 352.1,97.3 352.2,97.4 352.3,97.5 352.5,97.6 352.6,97.7 352.7,97.7 352.8,97.8 353.0,97.9 353.1,98.0 353.2,98.1 353.4,98.1 353.5,98.2 353.6,98.3 353.7,98.4 353.9,98.4 354.0,98.5 354.1,98.6 354.2,98.7 354.4,98.7 354.5,98.8 354.6,98.9 354.8,99.0 354.9,99.0 355.0,99.1 355.1,99.2 355.3,99.2 355.4,99.3 355.5,99.4 355.6,99.5 355.8,99.5 355.9,99.6 356.0,99.7 356.2,99.7 356.3,99.8 356.4,99.9 356.5,99.9 356.7,100.0 356.8,100.1 356.9,100.1 357.0,100.2 357.2,100.2 357.3,100.3 357.4,100.4 357.6,100.4 357.7,100.5 357.8,100.6 357.9,100.6 358.1,100.7 358.2,100.7 358.3,100.8 359.4,101.3 360.4,101.8 361.5,102.2 362.5,102.7 363.6,103.1 364.6,103.5 365.6,103.9 366.7,104.3 367.7,104.7 368.8,105.0 369.8,105.4 370.9,105.8 371.9,106.1 373.0,106.4 374.0,106.8 375.1,107.1 376.1,107.4 377.2,107.8 378.2,108.1 379.2,108.4 380.3,108.7 381.3,109.0 382.4,109.3 383.4,109.6 384.5,109.9 385.5,110.2 386.6,110.5 387.6,110.8 388.7,111.1 389.7,111.4 390.8,111.7 391.8,112.0 392.9,112.3 393.9,112.5 394.9,112.8 396.0,113.1 397.0,113.4 398.1,113.7 399.1,113.9 400.2,114.2 401.2,114.5 402.3,114.8 403.3,115.0 404.4,115.3 405.4,115.6 406.5,115.9 407.5,116.1 408.5,116.4 409.6,116.7 410.6,116.9 411.7,117.2 412.7,117.5 413.8,117.7 414.8,118.0 415.9,118.3 416.9,118.6 418.0,118.8 419.0,119.1 420.1,119.4 421.1,119.6 422.2,119.9 423.2,120.2 424.2,120.4 425.3,120.7 426.3,121.0 427.4,121.2 428.4,121.5 429.5,121.7 430.5,122.0 431.6,122.3 432.6,122.5 433.7,122.8 434.7,123.1 435.8,123.3 436.8,123.6 437.8,123.9 438.9,124.1 439.9,124.4 441.0,124.7 442.0,124.9 443.1,125.2 444.1,125.5 445.2,125.7 446.2,126.0 447.3,126.3 448.3,126.5 449.4,126.8 450.4,127.1 451.5,127.3 452.5,127.6 453.5,127.9 454.6,128.1 455.6,128.4 456.7,128.7 457.7,128.9 458.8,129.2 459.8,129.5 460.9,129.7 461.9,130.0 463.0,130.3 464.0,130.5 465.1,130.8 466.1,131.1 467.1,131.3 468.2,131.6 469.2,131.9 470.3,132.2 471.3,132.4 472.4,132.7 473.4,133.0 474.5,133.3 475.5,133.5 476.6,133.8 477.6,134.1 478.7,134.4 479.7,134.6 480.8,134.9 481.8,135.2 482.8,135.5 483.9,135.8 484.9,136.0 486.0,136.3 487.0,136.6 488.1,136.9 489.1,137.2 490.2,137.5 491.2,137.8 492.3,138.1 493.3,138.4 494.4,138.7 495.4,139.0 496.4,139.3 497.5,139.6 498.5,139.9 499.6,140.2 500.6,140.5 501.7,140.8 502.7,141.1 503.8,141.5 504.8,141.8 505.9,142.1 506.9,142.4 508.0,142.8 509.0,143.1 510.1,143.5 511.1,143.8 512.1,144.2 513.2,144.5 514.2,144.9 515.3,145.2 516.3,145.6 517.4,146.0 518.4,146.3 519.5,146.7 520.5,147.1 521.6,147.5 522.6,147.9 523.7,148.3 524.7,148.7 525.7,149.1 526.8,149.5 527.8,149.9 528.9,150.4 529.9,150.8 531.0,151.2 532.0,151.7 533.1,152.1 534.1,152.6 535.2,153.0 536.2,153.5 537.3,153.9 538.3,154.4 539.4,154.9 540.4,155.3 541.4,155.8 542.5,156.3 543.5,156.8 544.6,157.3 545.6,157.8 546.7,158.3 547.7,158.8 548.8,159.3 549.8,159.8 550.9,160.3 551.9,160.8 553.0,161.3 554.0,161.8 555.0,162.3 556.1,162.8 557.1,163.4 558.2,163.9 559.2,164.4 560.3,164.9 561.3,165.4 562.4,166.0 563.4,166.5 564.5,167.0 565.5,167.5 566.6,168.1 567.6,168.6 568.7,169.1 569.7,169.6 570.7,170.2 571.8,170.7 572.8,171.2 573.9,171.8 574.9,172.3 576.0,172.8 577.0,173.3 578.1,173.9 579.1,174.4 580.2,174.9 581.2,175.5 582.3,176.0 583.3,176.5 584.3,177.0 585.4,177.6 586.4,178.1 587.5,178.6 588.5,179.2 589.6,179.7 590.6,180.2 591.7,180.7 592.7,181.3 593.8,181.8 594.8,182.3 595.9,182.8 596.9,183.4 598.0,183.9 599.0,184.4 600.0,185.0 601.1,185.5 602.1,186.0 603.2,186.5 604.2,187.1 605.3,187.6 606.3,188.1 607.4,188.6 608.4,189.2 609.5,189.7 610.5,190.2 611.6,190.7 612.6,191.3 613.6,191.8 614.7,192.3 615.7,192.8 616.8,193.4 617.8,193.9 618.9,194.4 619.9,194.9 621.0,195.5 622.0,196.0 623.1,196.5 624.1,197.0 625.2,197.6 626.2,198.1 627.3,198.6 628.3,199.1 629.3,199.7 630.4,200.2 631.4,200.7 632.5,201.3 633.5,201.8 634.6,202.3 635.6,202.8 636.7,203.4 637.7,203.9 638.8,204.4 639.8,204.9 640.9,205.5 641.9,206.0 642.9,206.5 644.0,207.0 645.0,207.6 646.1,208.1 647.1,208.6 648.2,209.1 649.2,209.7 650.3,210.2 651.3,210.7 652.4,211.2 653.4,211.8 654.5,212.3 655.5,212.8 656.6,213.3 657.6,213.9 658.6,214.4 659.7,214.9 660.7,215.4 661.8,216.0 662.8,216.5 663.9,217.0 664.9,217.5 666.0,218.1 667.0,218.6 668.1,219.1 669.1,219.6 670.2,220.2 671.2,220.7" class="cb"/>
<polyline points="60.7,135.7 61.6,135.7 62.4,135.7 63.3,135.7 64.2,135.7 65.0,135.7 65.9,135.7 66.8,135.7 67.6,135.7 68.5,135.7 69.3,135.7 70.2,135.7 71.1,135.7 71.9,135.7 72.8,135.7 73.7,135.7 74.5,135.7 75.4,135.7 76.3,135.7 77.1,135.7 78.0,135.7 78.9,135.7 79.7,135.7 80.6,135.7 81.5,135.7 82.3,135.7 83.2,135.7 84.1,135.7 84.9,135.7 85.8,135.7 86.6,135.7 87.5,135.7 88.4,135.7 89.2,135.7 90.1,135.7 91.0,135.7 91.8,135.7 92.7,135.7 93.6,135.7 94.4,135.7 95.3,135.7 96.2,135.7 97.0,135.7 97.9,135.7 98.8,135.7 99.6,135.7 100.5,135.7 101.3,135.7 102.2,135.7 103.1,135.7 103.9,135.7 104.8,135.7 105.7,135.7 106.5,135.7 107.4,135.7 108.3,135.7 109.1,135.7 110.0,135.7 110.9,135.7 111.7,135.7 112.6,135.7 113.5,135.7 114.3,135.7 115.2,135.7 116.1,135.7 116.9,135.7 117.8,135.7 118.6,135.7 119.5,135.7 120.4,135.6 121.2,135.6 122.1,135.6 123.0,135.6 123.8,135.6 124.7,135.6 125.6,135.6 126.4,135.6 127.3,135.6 128.2,135.6 129.0,135.6 129.9,135.6 130.8,135.6 131.6,135.6 132.5,135.6 133.3,135.6 134.2,135.6 135.1,135.6 135.9,135.6 136.8,135.6 137.7,135.6 138.5,135.6 139.4,135.5 140.3,135.5 141.1,135.5 142.0,135.5 142.9,135.5 143.7,135.5 144.6,135.5 145.5,135.5 146.3,135.5 147.2,135.5 148.1,135.4 148.9,135.4 149.8,135.4 150.6,135.4 151.5,135.4 152.4,135.4 153.2,135.3 154.1,135.3 155.0,135.3 155.8,135.3 156.7,135.3 157.6,135.3 158.4,135.2 159.3,135.2 160.2,135.2 161.0,135.2 161.9,135.1 162.8,135.1 163.6,135.1 164.5,135.0 165.3,135.0 166.2,135.0 167.1,134.9 167.9,134.9 168.8,134.9 169.7,134.8 170.5,134.8 171.4,134.7 172.3,134.7 173.1,134.6 174.0,134.6 174.9,134.5 175.7,134.5 176.6,134.4 177.5,134.4 178.3,134.3 179.2,134.2 180.1,134.2 180.9,134.1 181.8,134.0 182.6,134.0 183.5,133.9 184.4,133.8 185.2,133.7 186.1,133.6 187.0,133.6 187.8,133.5 188.7,133.4 189.6,133.3 190.4,133.2 191.3,133.1 192.2,133.0 193.0,132.9 193.9,132.8 194.8,132.7 195.6,132.5 196.5,132.4 197.4,132.3 198.2,132.2 199.1,132.1 199.9,131.9 200.8,131.8 201.7,131.7 202.5,131.5 203.4,131.4 204.3,131.3 205.1,131.1 206.0,131.0 206.9,130.8 207.7,130.7 208.6,130.5 209.5,130.4 210.3,130.2 211.2,130.0 212.1,129.9 212.9,129.7 213.8,129.5 214.6,129.4 215.5,129.2 216.4,129.0 217.2,128.9 218.1,128.7 219.0,128.5 219.8,128.3 220.7,128.1 221.6,128.0 222.4,127.8 223.3,127.6 224.2,127.4 225.0,127.2 225.9,127.0 226.8,126.8 227.6,126.6 228.5,126.4 229.4,126.2 230.2,126.1 231.1,125.9 231.9,125.7 232.8,125.5 233.7,125.3 234.5,125.1 235.4,124.9 236.3,124.7 237.1,124.5 238.0,124.2 238.9,124.0 239.7,123.8 240.6,123.6 241.5,123.4 242.3,123.2 243.2,123.0 244.1,122.8 244.9,122.6 245.8,122.4 246.6,122.2 247.5,122.0 248.4,121.8 249.2,121.5 250.1,121.3 251.0,121.1 251.8,120.9 252.7,120.7 253.6,120.5 254.4,120.3 255.3,120.1 256.2,119.8 257.0,119.6 257.9,119.4 258.8,119.2 259.6,119.0 260.5,118.8 261.4,118.5 262.2,118.3 263.1,118.1 263.9,117.9 264.8,117.7 265.7,117.4 266.5,117.2 267.4,117.0 268.3,116.8 269.1,116.6 270.0,116.3 270.9,116.1 271.7,115.9 272.6,115.7 273.5,115.5 274.3,115.2 275.2,115.0 276.1,114.8 276.9,114.6 277.8,114.3 278.6,114.1 279.5,113.9 280.4,113.7 281.2,113.4 282.1,113.2 283.0,113.0 283.8,112.7 284.7,112.5 285.6,112.3 286.4,112.0 287.3,111.8 288.2,111.6 289.0,111.3 289.9,111.1 290.8,110.8 291.6,110.6 292.5,110.4 293.4,110.1 294.2,109.9 295.1,109.6 295.9,109.4 296.8,109.1 297.7,108.9 298.5,108.6 299.4,108.4 300.3,108.1 301.1,107.8 302.0,107.6 302.9,107.3 303.7,107.0 304.6,106.8 305.5,106.5 306.3,106.2 307.2,105.9 308.1,105.6 308.9,105.3 309.8,105.0 310.6,104.7 311.5,104.4 312.4,104.1 313.2,103.8 314.1,103.4 315.0,103.1 315.8,102.7 316.7,102.4 317.6,102.0 318.4,101.6 319.3,101.2 320.2,100.8 320.3,100.8 320.4,100.7 320.5,100.6 320.7,100.6 320.8,100.5 320.9,100.5 321.1,100.4 321.2,100.3 321.3,100.3 321.4,100.2 321.6,100.1 321.7,100.1 321.8,100.0 321.9,99.9 322.1,99.9 322.2,99.8 322.3,99.7 322.5,99.7 322.6,99.6 322.7,99.5 322.8,99.5 323.0,99.4 323.1,99.3 323.2,99.3 323.3,99.2 323.5,99.1 323.6,99.1 323.7,99.0 323.9,98.9 324.0,98.8 324.1,98.8 324.2,98.7 324.4,98.6 324.5,98.5 324.6,98.5 324.7,98.4 324.9,98.3 325.0,98.2 325.1,98.2 325.2,98.1 325.4,98.0 325.5,97.9 325.6,97.9 325.8,97.8 325.9,97.7 326.0,97.6 326.1,97.5 326.3,97.4 326.4,97.4 326.5,97.3 326.6,97.2 326.8,97.1 326.9,97.0 327.0,96.9 327.2,96.8 327.3,96.8 327.4,96.7 327.5,96.6 327.7,96.5 327.8,96.4 327.9,96.3 328.0,96.2 328.2,96.1 328.3,96.0 328.4,95.9 328.6,95.8 328.7,95.7 328.8,95.6 328.9,95.5 329.1,95.4 329.2,95.3 329.3,95.2 329.4,95.1 329.6,95.0 329.7,94.9 329.8,94.8 330.0,94.7 330.1,94.6 330.2,94.5 330.3,94.3 330.5,94.2 330.6,94.1 330.7,94.0 330.8,93.9 331.0,93.7 331.1,93.6 331.2,93.5 331.4,93.4 331.5,93.2 331.6,93.1 331.7,93.0 331.9,92.9 332.0,92.7 332.1,92.6 332.2,92.4 332.4,92.3 332.5,92.2 332.6,92.0 332.8,91.9 332.9,91.7 333.0,91.6 333.1,91.4 333.3,91.3 333.4,91.1 333.5,90.9 333.6,90.8 333.8,90.6 333.9,90.4 334.0,90.3 334.2,90.1 334.3,89.9 334.4,89.7 334.5,89.5 334.7,89.4 334.8,89.2 334.9,89.0 335.0,88.8 335.2,88.6 335.3,88.4 335.4,88.2 335.6,88.0 335.7,87.7 335.8,87.5 335.9,87.3 336.1,87.1 336.2,86.9 336.3,86.6 336.4,86.4 336.6,86.2 336.7,85.9 336.8,85.7 337.0,85.4 337.1,85.2 337.2,84.9 337.3,84.7 337.5,84.5 337.6,84.2 337.7,84.0 337.8,83.8 338.0,83.6 338.1,83.4 338.2,83.2 338.4,83.0 338.5,82.8 338.6,82.7 338.7,82.5 338.9,82.5 339.0,82.4 339.1,82.3 339.2,82.3 339.4,82.3 339.5,82.4 339.6,82.4 339.7,82.5 339.9,82.6 340.0,82.8 340.1,82.9 340.3,83.1 340.4,83.3 340.5,83.5 340.6,83.7 340.8,83.9 340.9,84.1 341.0,84.4 341.1,84.6 341.3,84.9 341.4,85.1 341.5,85.3 341.7,85.6 341.8,85.8 341.9,86.1 342.0,86.3 342.2,86.5 342.3,86.8 342.4,87.0 342.5,87.2 342.7,87.4 342.8,87.7 342.9,87.9 343.1,88.1 343.2,88.3 343.3,88.5 343.4,88.7 343.6,88.9 343.7,89.1 343.8,89.3 343.9,89.5 344.1,89.7 344.2,89.8 344.3,90.0 344.5,90.2 344.6,90.4 344.7,90.5 344.8,90.7 345.0,90.9 345.1,91.0 345.2,91.2 345.3,91.4 345.5,91.5 345.6,91.7 345.7,91.8 345.9,92.0 346.0,92.1 346.1,92.3 346.2,92.4 346.4,92.5 346.5,92.7 346.6,92.8 346.7,92.9 346.9,93.1 347.0,93.2 347.1,93.3 347.3,93.5 347.4,93.6 347.5,93.7 347.6,93.8 347.8,93.9 347.9,94.1 348.0,94.2 348.1,94.3 348.3,94.4 348.4,94.5 348.5,94.6 348.7,94.7 348.8,94.9 348.9,95.0 349.0,95.1 349.2,95.2 349.3,95.3 349.4,95.4 349.5,95.5 349.7,95.6 349.8,95.7 349.9,95.8 350.1,95.9 350.2,96.0 350.3,96.1 350.4,96.2 350.6,96.3 350.7,96.4 350.8,96.5 350.9,96.5 351.1,96.6 351.2,96.7 351.3,96.8 351.5,96.9 351.6,97.0 351.7,97.1 351.8,97.2 352.0,97.2 352.1,97.3 352.2,97.4 352.3,97.5 352.5,97.6 352.6,97.7 352.7,97.7 352.8,97.8 353.0,97.9 353.1,98.0 353.2,98.1 353.4,98.1 353.5,98.2 353.6,98.3 353.7,98.4 353.9,98.4 354.0,98.5 354.1,98.6 354.2,98.7 354.4,98.7 354.5,98.8 354.6,98.9 354.8,99.0 354.9,99.0 355.0,99.1 355.1,99.2 355.3,99.2 355.4,99.3 355.5,99.4 355.6,99.5 355.8,99.5 355.9,99.6 356.0,99.7 356.2,99.7 356.3,99.8 356.4,99.9 356.5,99.9 356.7,100.0 356.8,100.1 356.9,100.1 357.0,100.2 357.2,100.2 357.3,100.3 357.4,100.4 357.6,100.4 357.7,100.5 357.8,100.6 357.9,100.6 358.1,100.7 358.2,100.7 358.3,100.8 359.4,101.3 360.4,101.8 361.5,102.2 362.5,102.7 363.6,103.1 364.6,103.5 365.6,103.9 366.7,104.3 367.7,104.7 368.8,105.0 369.8,105.4 370.9,105.8 371.9,106.1 373.0,106.4 374.0,106.8 375.1,107.1 376.1,107.4 377.2,107.8 378.2,108.1 379.2,108.4 380.3,108.7 381.3,109.0 382.4,109.3 383.4,109.6 384.5,109.9 385.5,110.2 386.6,110.5 387.6,110.8 388.7,111.1 389.7,111.4 390.8,111.7 391.8,112.0 392.9,112.3 393.9,112.5 394.9,112.8 396.0,113.1 397.0,113.4 398.1,113.7 399.1,113.9 400.2,114.2 401.2,114.5 402.3,114.8 403.3,115.0 404.4,115.3 405.4,115.6 406.5,115.9 407.5,116.1 408.5,116.4 409.6,116.7 410.6,116.9 411.7,117.2 412.7,117.5 413.8,117.7 414.8,118.0 415.9,118.3 416.9,118.6 418.0,118.8 419.0,119.1 420.1,119.4 421.1,119.6 422.2,119.9 423.2,120.2 424.2,120.4 425.3,120.7 426.3,121.0 427.4,121.2 428.4,121.5 429.5,121.7 430.5,122.0 431.6,122.3 432.6,122.5 433.7,122.8 434.7,123.1 435.8,123.3 436.8,123.6 437.8,123.9 438.9,124.1 439.9,124.4 441.0,124.7 442.0,124.9 443.1,125.2 444.1,125.5 445.2,125.7 446.2,126.0 447.3,126.3 448.3,126.5 449.4,126.8 450.4,127.1 451.5,127.3 452.5,127.6 453.5,127.9 454.6,128.1 455.6,128.4 456.7,128.7 457.7,128.9 458.8,129.2 459.8,129.5 460.9,129.7 461.9,130.0 463.0,130.3 464.0,130.5 465.1,130.8 466.1,131.1 467.1,131.3 468.2,131.6 469.2,131.9 470.3,132.2 471.3,132.4 472.4,132.7 473.4,133.0 474.5,133.3 475.5,133.5 476.6,133.8 477.6,134.1 478.7,134.4 479.7,134.6 480.8,134.9 481.8,135.2 482.8,135.5 483.9,135.8 484.9,136.0 486.0,136.3 487.0,136.6 488.1,136.9 489.1,137.2 490.2,137.5 491.2,137.8 492.3,138.1 493.3,138.4 494.4,138.7 495.4,139.0 496.4,139.3 497.5,139.6 498.5,139.9 499.6,140.2 500.6,140.5 501.7,140.8 502.7,141.1 503.8,141.5 504.8,141.8 505.9,142.1 506.9,142.4 508.0,142.8 509.0,143.1 510.1,143.5 511.1,143.8 512.1,144.2 513.2,144.5 514.2,144.9 515.3,145.2 516.3,145.6 517.4,146.0 518.4,146.3 519.5,146.7 520.5,147.1 521.6,147.5 522.6,147.9 523.7,148.3 524.7,148.7 525.7,149.1 526.8,149.5 527.8,149.9 528.9,150.4 529.9,150.8 531.0,151.2 532.0,151.7 533.1,152.1 534.1,152.6 535.2,153.0 536.2,153.5 537.3,153.9 538.3,154.4 539.4,154.9 540.4,155.3 541.4,155.8 542.5,156.3 543.5,156.8 544.6,157.3 545.6,157.8 546.7,158.3 547.7,158.8 548.8,159.3 549.8,159.8 550.9,160.3 551.9,160.8 553.0,161.3 554.0,161.8 555.0,162.3 556.1,162.8 557.1,163.4 558.2,163.9 559.2,164.4 560.3,164.9 561.3,165.4 562.4,166.0 563.4,166.5 564.5,167.0 565.5,167.5 566.6,168.1 567.6,168.6 568.7,169.1 569.7,169.6 570.7,170.2 571.8,170.7 572.8,171.2 573.9,171.8 574.9,172.3 576.0,172.8 577.0,173.3 578.1,173.9 579.1,174.4 580.2,174.9 581.2,175.5 582.3,176.0 583.3,176.5 584.3,177.0 585.4,177.6 586.4,178.1 587.5,178.6 588.5,179.2 589.6,179.7 590.6,180.2 591.7,180.7 592.7,181.3 593.8,181.8 594.8,182.3 595.9,182.8 596.9,183.4 598.0,183.9 599.0,184.4 600.0,185.0 601.1,185.5 602.1,186.0 603.2,186.5 604.2,187.1 605.3,187.6 606.3,188.1 607.4,188.6 608.4,189.2 609.5,189.7 610.5,190.2 611.6,190.7 612.6,191.3 613.6,191.8 614.7,192.3 615.7,192.8 616.8,193.4 617.8,193.9 618.9,194.4 619.9,194.9 621.0,195.5 622.0,196.0 623.1,196.5 624.1,197.0 625.2,197.6 626.2,198.1 627.3,198.6 628.3,199.1 629.3,199.7 630.4,200.2 631.4,200.7 632.5,201.3 633.5,201.8 634.6,202.3 635.6,202.8 636.7,203.4 637.7,203.9 638.8,204.4 639.8,204.9 640.9,205.5 641.9,206.0 642.9,206.5 644.0,207.0 645.0,207.6 646.1,208.1 647.1,208.6 648.2,209.1 649.2,209.7 650.3,210.2 651.3,210.7 652.4,211.2 653.4,211.8 654.5,212.3 655.5,212.8 656.6,213.3 657.6,213.9 658.6,214.4 659.7,214.9 660.7,215.4 661.8,216.0 662.8,216.5 663.9,217.0 664.9,217.5 666.0,218.1 667.0,218.6 668.1,219.1 669.1,219.6 670.2,220.2 671.2,220.7" class="cr"/>
<polyline points="60.7,300.5 61.6,300.5 62.4,300.5 63.3,300.5 64.2,300.5 65.0,300.5 65.9,300.4 66.8,300.4 67.6,300.4 68.5,300.4 69.3,300.4 70.2,300.3 71.1,300.3 71.9,300.3 72.8,300.3 73.7,300.2 74.5,300.2 75.4,300.2 76.3,300.2 77.1,300.1 78.0,300.1 78.9,300.1 79.7,300.0 80.6,300.0 81.5,300.0 82.3,299.9 83.2,299.9 84.1,299.9 84.9,299.8 85.8,299.8 86.6,299.8 87.5,299.7 88.4,299.7 89.2,299.7 90.1,299.6 91.0,299.6 91.8,299.5 92.7,299.5 93.6,299.4 94.4,299.4 95.3,299.4 96.2,299.3 97.0,299.3 97.9,299.2 98.8,299.1 99.6,299.1 100.5,299.0 101.3,299.0 102.2,298.9 103.1,298.9 103.9,298.8 104.8,298.7 105.7,298.7 106.5,298.6 107.4,298.5 108.3,298.5 109.1,298.4 110.0,298.3 110.9,298.2 111.7,298.2 112.6,298.1 113.5,298.0 114.3,297.9 115.2,297.8 116.1,297.7 116.9,297.7 117.8,297.6 118.6,297.5 119.5,297.4 120.4,297.3 121.2,297.2 122.1,297.1 123.0,297.0 123.8,296.8 124.7,296.7 125.6,296.6 126.4,296.5 127.3,296.4 128.2,296.2 129.0,296.1 129.9,296.0 130.8,295.8 131.6,295.7 132.5,295.6 133.3,295.4 134.2,295.3 135.1,295.1 135.9,295.0 136.8,294.8 137.7,294.6 138.5,294.5 139.4,294.3 140.3,294.1 141.1,293.9 142.0,293.7 142.9,293.5 143.7,293.3 144.6,293.1 145.5,292.9 146.3,292.7 147.2,292.5 148.1,292.3 148.9,292.1 149.8,291.8 150.6,291.6 151.5,291.4 152.4,291.1 153.2,290.9 154.1,290.6 155.0,290.3 155.8,290.1 156.7,289.8 157.6,289.5 158.4,289.2 159.3,288.9 160.2,288.6 161.0,288.3 161.9,288.0 162.8,287.7 163.6,287.4 164.5,287.1 165.3,286.7 166.2,286.4 167.1,286.0 167.9,285.7 168.8,285.3 169.7,285.0 170.5,284.6 171.4,284.2 172.3,283.8 173.1,283.4 174.0,283.0 174.9,282.6 175.7,282.2 176.6,281.8 177.5,281.4 178.3,281.0 179.2,280.6 180.1,280.1 180.9,279.7 181.8,279.3 182.6,278.8 183.5,278.4 184.4,277.9 185.2,277.5 186.1,277.0 187.0,276.6 187.8,276.1 188.7,275.6 189.6,275.2 190.4,274.7 191.3,274.3 192.2,273.8 193.0,273.3 193.9,272.9 194.8,272.4 195.6,271.9 196.5,271.5 197.4,271.0 198.2,270.5 199.1,270.1 199.9,269.6 200.8,269.2 201.7,268.7 202.5,268.2 203.4,267.8 204.3,267.4 205.1,266.9 206.0,266.5 206.9,266.0 207.7,265.6 208.6,265.2 209.5,264.8 210.3,264.4 211.2,264.0 212.1,263.5 212.9,263.1 213.8,262.7 214.6,262.3 215.5,261.9 216.4,261.5 217.2,261.1 218.1,260.7 219.0,260.3 219.8,259.9 220.7,259.5 221.6,259.1 222.4,258.7 223.3,258.4 224.2,258.0 225.0,257.7 225.9,257.3 226.8,257.0 227.6,256.6 228.5,256.3 229.4,256.0 230.2,255.7 231.1,255.4 231.9,255.1 232.8,254.8 233.7,254.5 234.5,254.2 235.4,253.9 236.3,253.6 237.1,253.4 238.0,253.1 238.9,252.8 239.7,252.5 240.6,252.2 241.5,251.9 242.3,251.6 243.2,251.3 244.1,251.0 244.9,250.7 245.8,250.4 246.6,250.2 247.5,249.9 248.4,249.6 249.2,249.3 250.1,249.1 251.0,248.8 251.8,248.6 252.7,248.3 253.6,248.2 254.4,248.1 255.3,247.9 256.2,247.8 257.0,247.7 257.9,247.6 258.8,247.5 259.6,247.5 260.5,247.4 261.4,247.3 262.2,247.2 263.1,247.1 263.9,247.0 264.8,247.0 265.7,246.9 266.5,246.8 267.4,246.8 268.3,246.7 269.1,246.6 270.0,246.6 270.9,246.5 271.7,246.5 272.6,246.5 273.5,246.4 274.3,246.4 275.2,246.4 276.1,246.3 276.9,246.3 277.8,246.3 278.6,246.2 279.5,246.2 280.4,246.2 281.2,246.2 282.1,246.2 283.0,246.2 283.8,246.2 284.7,246.2 285.6,246.1 286.4,246.1 287.3,246.1 288.2,246.2 289.0,246.2 289.9,246.2 290.8,246.1 291.6,246.1 292.5,246.1 293.4,246.1 294.2,246.1 295.1,246.1 295.9,246.1 296.8,246.1 297.7,246.1 298.5,246.2 299.4,246.2 300.3,246.2 301.1,246.2 302.0,246.2 302.9,246.3 303.7,246.3 304.6,246.3 305.5,246.4 306.3,246.4 307.2,246.5 308.1,246.5 308.9,246.6 309.8,246.6 310.6,246.7 311.5,246.8 312.4,246.8 313.2,247.0 314.1,247.2 315.0,247.3 315.8,247.5 316.7,247.7 317.6,247.9 318.4,248.2 319.3,248.4 320.2,248.7 320.3,248.7 320.4,248.7 320.5,248.8 320.7,248.8 320.8,248.9 320.9,248.9 321.1,248.9 321.2,249.0 321.3,249.0 321.4,249.1 321.6,249.1 321.7,249.1 321.8,249.2 321.9,249.2 322.1,249.3 322.2,249.3 322.3,249.4 322.5,249.4 322.6,249.5 322.7,249.5 322.8,249.6 323.0,249.6 323.1,249.6 323.2,249.7 323.3,249.7 323.5,249.8 323.6,249.8 323.7,249.9 323.9,250.0 324.0,250.0 324.1,250.1 324.2,250.1 324.4,250.2 324.5,250.2 324.6,250.3 324.7,250.3 324.9,250.4 325.0,250.4 325.1,250.5 325.2,250.5 325.4,250.6 325.5,250.7 325.6,250.7 325.8,250.8 325.9,250.8 326.0,250.9 326.1,251.0 326.3,251.0 326.4,251.1 326.5,251.2 326.6,251.2 326.8,251.3 326.9,251.4 327.0,251.4 327.2,251.5 327.3,251.6 327.4,251.7 327.5,251.7 327.7,251.8 327.8,251.9 327.9,252.0 328.0,252.1 328.2,252.1 328.3,252.2 328.4,252.3 328.6,252.4 328.7,252.5 328.8,252.6 328.9,252.7 329.1,252.8 329.2,252.9 329.3,253.0 329.4,253.1 329.6,253.2 329.7,253.3 329.8,253.4 330.0,253.6 330.1,253.7 330.2,253.8 330.3,253.9 330.5,254.0 330.6,254.2 330.7,254.3 330.8,254.4 331.0,254.6 331.1,254.7 331.2,254.9 331.4,255.0 331.5,255.2 331.6,255.4 331.7,255.5 331.9,255.7 332.0,255.9 332.1,256.0 332.2,256.2 332.4,256.4 332.5,256.6 332.6,256.8 332.8,257.0 332.9,257.2 333.0,257.4 333.1,257.7 333.3,257.9 333.4,258.2 333.5,258.4 333.6,258.7 333.8,259.0 333.9,259.3 334.0,259.6 334.2,259.9 334.3,260.2 334.4,260.6 334.5,260.9 334.7,261.3 334.8,261.7 334.9,262.1 335.0,262.5 335.2,263.0 335.3,263.5 335.4,264.0 335.6,264.5 335.7,265.0 335.8,265.6 335.9,266.2 336.1,266.9 336.2,267.6 336.3,268.3 336.4,269.1 336.6,269.9 336.7,270.7 336.8,271.6 337.0,272.6 337.1,273.6 337.2,274.7 337.3,275.8 337.5,277.0 337.6,278.3 337.7,279.6 337.8,281.1 338.0,282.6 338.1,284.2 338.2,285.8 338.4,287.6 338.5,289.4 338.6,291.3 338.7,293.2 338.9,295.2 339.0,297.2 339.1,299.3 339.2,301.4 339.4,303.5 339.5,305.5 339.6,307.6 339.7,309.6 339.9,311.6 340.0,313.5 340.1,315.3 340.3,317.1 340.4,318.8 340.5,320.4 340.6,321.9 340.8,323.4 340.9,324.8 341.0,326.1 341.1,327.3 341.3,328.5 341.4,329.6 341.5,330.6 341.7,331.6 341.8,332.5 341.9,333.4 342.0,334.2 342.2,335.0 342.3,335.7 342.4,336.4 342.5,337.1 342.7,337.7 342.8,338.3 342.9,338.8 343.1,339.4 343.2,339.9 343.3,340.4 343.4,340.8 343.6,341.3 343.7,341.7 343.8,342.1 343.9,342.5 344.1,342.8 344.2,343.2 344.3,343.5 344.5,343.9 344.6,344.2 344.7,344.5 344.8,344.7 345.0,345.0 345.1,345.3 345.2,345.5 345.3,345.8 345.5,346.0 345.6,346.2 345.7,346.5 345.9,346.7 346.0,346.9 346.1,347.1 346.2,347.3 346.4,347.5 346.5,347.6 346.6,347.8 346.7,348.0 346.9,348.1 347.0,348.3 347.1,348.4 347.3,348.6 347.4,348.7 347.5,348.9 347.6,349.0 347.8,349.2 347.9,349.3 348.0,349.4 348.1,349.5 348.3,349.6 348.4,349.8 348.5,349.9 348.7,350.0 348.8,350.1 348.9,350.2 349.0,350.3 349.2,350.4 349.3,350.5 349.4,350.6 349.5,350.7 349.7,350.8 349.8,350.9 349.9,350.9 350.1,351.0 350.2,351.1 350.3,351.2 350.4,351.3 350.6,351.3 350.7,351.4 350.8,351.5 350.9,351.6 351.1,351.6 351.2,351.7 351.3,351.8 351.5,351.8 351.6,351.9 351.7,352.0 351.8,352.0 352.0,352.1 352.1,352.2 352.2,352.2 352.3,352.3 352.5,352.3 352.6,352.4 352.7,352.4 352.8,352.5 353.0,352.6 353.1,352.6 353.2,352.7 353.4,352.7 353.5,352.8 353.6,352.8 353.7,352.9 353.9,352.9 354.0,353.0 354.1,353.0 354.2,353.0 354.4,353.1 354.5,353.1 354.6,353.2 354.8,353.2 354.9,353.3 355.0,353.3 355.1,353.3 355.3,353.4 355.4,353.4 355.5,353.5 355.6,353.5 355.8,353.5 355.9,353.6 356.0,353.6 356.2,353.6 356.3,353.7 356.4,353.7 356.5,353.7 356.7,353.8 356.8,353.8 356.9,353.8 357.0,353.9 357.2,353.9 357.3,353.9 357.4,354.0 357.6,354.0 357.7,354.0 357.8,354.1 357.9,354.1 358.1,354.1 358.2,354.2 358.3,354.2 359.4,354.4 360.4,354.6 361.5,354.8 362.5,355.0 363.6,355.1 364.6,355.3 365.6,355.4 366.7,355.5 367.7,355.6 368.8,355.7 369.8,355.9 370.9,355.9 371.9,356.0 373.0,356.1 374.0,356.2 375.1,356.3 376.1,356.4 377.2,356.4 378.2,356.5 379.2,356.6 380.3,356.7 381.3,356.7 382.4,356.8 383.4,356.8 384.5,356.9 385.5,357.0 386.6,357.0 387.6,357.1 388.7,357.1 389.7,357.2 390.8,357.2 391.8,357.3 392.9,357.3 393.9,357.4 394.9,357.4 396.0,357.5 397.0,357.5 398.1,357.6 399.1,357.6 400.2,357.7 401.2,357.7 402.3,357.8 403.3,357.8 404.4,357.9 405.4,357.9 406.5,358.0 407.5,358.0 408.5,358.1 409.6,358.1 410.6,358.2 411.7,358.2 412.7,358.3 413.8,358.3 414.8,358.4 415.9,358.4 416.9,358.5 418.0,358.5 419.0,358.6 420.1,358.6 421.1,358.7 422.2,358.7 423.2,358.8 424.2,358.9 425.3,358.9 426.3,359.0 427.4,359.1 428.4,359.1 429.5,359.2 430.5,359.3 431.6,359.3 432.6,359.4 433.7,359.5 434.7,359.6 435.8,359.6 436.8,359.7 437.8,359.8 438.9,359.9 439.9,360.0 441.0,360.1 442.0,360.1 443.1,360.2 444.1,360.3 445.2,360.4 446.2,360.5 447.3,360.6 448.3,360.7 449.4,360.9 450.4,361.0 451.5,361.1 452.5,361.2 453.5,361.3 454.6,361.5 455.6,361.6 456.7,361.7 457.7,361.9 458.8,362.0 459.8,362.2 460.9,362.3 461.9,362.5 463.0,362.6 464.0,362.8 465.1,363.0 466.1,363.1 467.1,363.3 468.2,363.5 469.2,363.7 470.3,363.9 471.3,364.1 472.4,364.3 473.4,364.5 474.5,364.7 475.5,365.0 476.6,365.2 477.6,365.4 478.7,365.7 479.7,365.9 480.8,366.2 481.8,366.5 482.8,366.7 483.9,367.0 484.9,367.3 486.0,367.6 487.0,367.9 488.1,368.2 489.1,368.6 490.2,368.9 491.2,369.2 492.3,369.6 493.3,369.9 494.4,370.3 495.4,370.7 496.4,371.1 497.5,371.4 498.5,371.8 499.6,372.3 500.6,372.7 501.7,373.1 502.7,373.5 503.8,374.0 504.8,374.4 505.9,374.9 506.9,375.4 508.0,375.9 509.0,376.3 510.1,376.8 511.1,377.3 512.1,377.9 513.2,378.4 514.2,378.9 515.3,379.4 516.3,380.0 517.4,380.5 518.4,381.0 519.5,381.6 520.5,382.1 521.6,382.7 522.6,383.3 523.7,383.8 524.7,384.4 525.7,385.0 526.8,385.5 527.8,386.1 528.9,386.7 529.9,387.2 531.0,387.8 532.0,388.4 533.1,388.9 534.1,389.5 535.2,390.0 536.2,390.6 537.3,391.1 538.3,391.7 539.4,392.2 540.4,392.7 541.4,393.2 542.5,393.8 543.5,394.3 544.6,394.8 545.6,395.3 546.7,395.7 547.7,396.2 548.8,396.7 549.8,397.2 550.9,397.6 551.9,398.1 553.0,398.5 554.0,398.9 555.0,399.3 556.1,399.7 557.1,400.1 558.2,400.5 559.2,400.9 560.3,401.2 561.3,401.6 562.4,401.9 563.4,402.2 564.5,402.5 565.5,402.9 566.6,403.2 567.6,403.5 568.7,403.7 569.7,404.0 570.7,404.3 571.8,404.5 572.8,404.8 573.9,405.0 574.9,405.3 576.0,405.5 577.0,405.7 578.1,406.0 579.1,406.2 580.2,406.4 581.2,406.6 582.3,406.8 583.3,406.9 584.3,407.1 585.4,407.3 586.4,407.5 587.5,407.6 588.5,407.8 589.6,407.9 590.6,408.1 591.7,408.2 592.7,408.4 593.8,408.5 594.8,408.6 595.9,408.7 596.9,408.9 598.0,409.0 599.0,409.1 600.0,409.2 601.1,409.3 602.1,409.4 603.2,409.5 604.2,409.6 605.3,409.7 606.3,409.8 607.4,409.8 608.4,409.9 609.5,410.0 610.5,410.1 611.6,410.1 612.6,410.2 613.6,410.3 614.7,410.3 615.7,410.4 616.8,410.4 617.8,410.5 618.9,410.5 619.9,410.6 621.0,410.6 622.0,410.7 623.1,410.7 624.1,410.8 625.2,410.8 626.2,410.9 627.3,410.9 628.3,410.9 629.3,411.0 630.4,411.0 631.4,411.0 632.5,411.0 633.5,411.1 634.6,411.1 635.6,411.1 636.7,411.1 637.7,411.2 638.8,411.2 639.8,411.2 640.9,411.2 641.9,411.2 642.9,411.3 644.0,411.3 645.0,411.3 646.1,411.3 647.1,411.3 648.2,411.3 649.2,411.3 650.3,411.3 651.3,411.3 652.4,411.3 653.4,411.3 654.5,411.4 655.5,411.4 656.6,411.4 657.6,411.4 658.6,411.4 659.7,411.4 660.7,411.4 661.8,411.4 662.8,411.4 663.9,411.4 664.9,411.4 666.0,411.4 667.0,411.4 668.1,411.4 669.1,411.3 670.2,411.3 671.2,411.3" class="cb"/>
<polyline points="60.7,300.5 61.6,300.5 62.4,300.5 63.3,300.5 64.2,300.5 65.0,300.5 65.9,300.4 66.8,300.4 67.6,300.4 68.5,300.4 69.3,300.4 70.2,300.3 71.1,300.3 71.9,300.3 72.8,300.3 73.7,300.2 74.5,300.2 75.4,300.2 76.3,300.2 77.1,300.1 78.0,300.1 78.9,300.1 79.7,300.0 80.6,300.0 81.5,300.0 82.3,299.9 83.2,299.9 84.1,299.9 84.9,299.8 85.8,299.8 86.6,299.8 87.5,299.7 88.4,299.7 89.2,299.7 90.1,299.6 91.0,299.6 91.8,299.5 92.7,299.5 93.6,299.4 94.4,299.4 95.3,299.4 96.2,299.3 97.0,299.3 97.9,299.2 98.8,299.1 99.6,299.1 100.5,299.0 101.3,299.0 102.2,298.9 103.1,298.9 103.9,298.8 104.8,298.7 105.7,298.7 106.5,298.6 107.4,298.5 108.3,298.5 109.1,298.4 110.0,298.3 110.9,298.2 111.7,298.2 112.6,298.1 113.5,298.0 114.3,297.9 115.2,297.8 116.1,297.7 116.9,297.7 117.8,297.6 118.6,297.5 119.5,297.4 120.4,297.3 121.2,297.2 122.1,297.1 123.0,297.0 123.8,296.8 124.7,296.7 125.6,296.6 126.4,296.5 127.3,296.4 128.2,296.2 129.0,296.1 129.9,296.0 130.8,295.8 131.6,295.7 132.5,295.6 133.3,295.4 134.2,295.3 135.1,295.1 135.9,295.0 136.8,294.8 137.7,294.6 138.5,294.5 139.4,294.3 140.3,294.1 141.1,293.9 142.0,293.7 142.9,293.5 143.7,293.3 144.6,293.1 145.5,292.9 146.3,292.7 147.2,292.5 148.1,292.3 148.9,292.1 149.8,291.8 150.6,291.6 151.5,291.4 152.4,291.1 153.2,290.9 154.1,290.6 155.0,290.3 155.8,290.1 156.7,289.8 157.6,289.5 158.4,289.2 159.3,288.9 160.2,288.6 161.0,288.3 161.9,288.0 162.8,287.7 163.6,287.4 164.5,287.1 165.3,286.7 166.2,286.4 167.1,286.0 167.9,285.7 168.8,285.3 169.7,285.0 170.5,284.6 171.4,284.2 172.3,283.8 173.1,283.4 174.0,283.0 174.9,282.6 175.7,282.2 176.6,281.8 177.5,281.4 178.3,281.0 179.2,280.6 180.1,280.1 180.9,279.7 181.8,279.3 182.6,278.8 183.5,278.4 184.4,277.9 185.2,277.5 186.1,277.0 187.0,276.6 187.8,276.1 188.7,275.6 189.6,275.2 190.4,274.7 191.3,274.3 192.2,273.8 193.0,273.3 193.9,272.9 194.8,272.4 195.6,271.9 196.5,271.5 197.4,271.0 198.2,270.5 199.1,270.1 199.9,269.6 200.8,269.2 201.7,268.7 202.5,268.2 203.4,267.8 204.3,267.4 205.1,266.9 206.0,266.5 206.9,266.0 207.7,265.6 208.6,265.2 209.5,264.8 210.3,264.4 211.2,264.0 212.1,263.5 212.9,263.1 213.8,262.7 214.6,262.3 215.5,261.9 216.4,261.5 217.2,261.1 218.1,260.7 219.0,260.3 219.8,259.9 220.7,259.5 221.6,259.1 222.4,258.7 223.3,258.4 224.2,258.0 225.0,257.7 225.9,257.3 226.8,257.0 227.6,256.6 228.5,256.3 229.4,256.0 230.2,255.7 231.1,255.4 231.9,255.1 232.8,254.8 233.7,254.5 234.5,254.2 235.4,253.9 236.3,253.6 237.1,253.4 238.0,253.1 238.9,252.8 239.7,252.5 240.6,252.2 241.5,251.9 242.3,251.6 243.2,251.3 244.1,251.0 244.9,250.7 245.8,250.4 246.6,250.2 247.5,249.9 248.4,249.6 249.2,249.3 250.1,249.1 251.0,248.8 251.8,248.6 252.7,248.3 253.6,248.2 254.4,248.1 255.3,247.9 256.2,247.8 257.0,247.7 257.9,247.6 258.8,247.5 259.6,247.5 260.5,247.4 261.4,247.3 262.2,247.2 263.1,247.1 263.9,247.0 264.8,247.0 265.7,246.9 266.5,246.8 267.4,246.8 268.3,246.7 269.1,246.6 270.0,246.6 270.9,246.5 271.7,246.5 272.6,246.5 273.5,246.4 274.3,246.4 275.2,246.4 276.1,246.3 276.9,246.3 277.8,246.3 278.6,246.2 279.5,246.2 280.4,246.2 281.2,246.2 282.1,246.2 283.0,246.2 283.8,246.2 284.7,246.2 285.6,246.1 286.4,246.1 287.3,246.1 288.2,246.2 289.0,246.2 289.9,246.2 290.8,246.1 291.6,246.1 292.5,246.1 293.4,246.1 294.2,246.1 295.1,246.1 295.9,246.1 296.8,246.1 297.7,246.1 298.5,246.2 299.4,246.2 300.3,246.2 301.1,246.2 302.0,246.2 302.9,246.3 303.7,246.3 304.6,246.3 305.5,246.4 306.3,246.4 307.2,246.5 308.1,246.5 308.9,246.6 309.8,246.6 310.6,246.7 311.5,246.8 312.4,246.8 313.2,247.0 314.1,247.2 315.0,247.3 315.8,247.5 316.7,247.7 317.6,247.9 318.4,248.2 319.3,248.4 320.2,248.7 320.3,248.7 320.4,248.7 320.5,248.8 320.7,248.8 320.8,248.9 320.9,248.9 321.1,248.9 321.2,249.0 321.3,249.0 321.4,249.1 321.6,249.1 321.7,249.1 321.8,249.2 321.9,249.2 322.1,249.3 322.2,249.3 322.3,249.4 322.5,249.4 322.6,249.5 322.7,249.5 322.8,249.6 323.0,249.6 323.1,249.6 323.2,249.7 323.3,249.7 323.5,249.8 323.6,249.8 323.7,249.9 323.9,250.0 324.0,250.0 324.1,250.1 324.2,250.1 324.4,250.2 324.5,250.2 324.6,250.3 324.7,250.3 324.9,250.4 325.0,250.4 325.1,250.5 325.2,250.5 325.4,250.6 325.5,250.7 325.6,250.7 325.8,250.8 325.9,250.8 326.0,250.9 326.1,251.0 326.3,251.0 326.4,251.1 326.5,251.2 326.6,251.2 326.8,251.3 326.9,251.4 327.0,251.4 327.2,251.5 327.3,251.6 327.4,251.7 327.5,251.7 327.7,251.8 327.8,251.9 327.9,252.0 328.0,252.1 328.2,252.1 328.3,252.2 328.4,252.3 328.6,252.4 328.7,252.5 328.8,252.6 328.9,252.7 329.1,252.8 329.2,252.9 329.3,253.0 329.4,253.1 329.6,253.2 329.7,253.3 329.8,253.4 330.0,253.6 330.1,253.7 330.2,253.8 330.3,253.9 330.5,254.0 330.6,254.2 330.7,254.3 330.8,254.4 331.0,254.6 331.1,254.7 331.2,254.9 331.4,255.0 331.5,255.2 331.6,255.4 331.7,255.5 331.9,255.7 332.0,255.9 332.1,256.0 332.2,256.2 332.4,256.4 332.5,256.6 332.6,256.8 332.8,257.0 332.9,257.2 333.0,257.4 333.1,257.7 333.3,257.9 333.4,258.2 333.5,258.4 333.6,258.7 333.8,259.0 333.9,259.3 334.0,259.6 334.2,259.9 334.3,260.2 334.4,260.6 334.5,260.9 334.7,261.3 334.8,261.7 334.9,262.1 335.0,262.5 335.2,263.0 335.3,263.5 335.4,264.0 335.6,264.5 335.7,265.0 335.8,265.6 335.9,266.2 336.1,266.9 336.2,267.6 336.3,268.3 336.4,269.1 336.6,269.9 336.7,270.7 336.8,271.6 337.0,272.6 337.1,273.6 337.2,274.7 337.3,275.8 337.5,277.0 337.6,278.3 337.7,279.6 337.8,281.1 338.0,282.6 338.1,284.2 338.2,285.8 338.4,287.6 338.5,289.4 338.6,291.3 338.7,293.2 338.9,295.2 339.0,297.2 339.1,299.3 339.2,301.4 339.4,303.5 339.5,305.5 339.6,307.6 339.7,309.6 339.9,311.6 340.0,313.5 340.1,315.3 340.3,317.1 340.4,318.8 340.5,320.4 340.6,321.9 340.8,323.4 340.9,324.8 341.0,326.1 341.1,327.3 341.3,328.5 341.4,329.6 341.5,330.6 341.7,331.6 341.8,332.5 341.9,333.4 342.0,334.2 342.2,335.0 342.3,335.7 342.4,336.4 342.5,337.1 342.7,337.7 342.8,338.3 342.9,338.8 343.1,339.4 343.2,339.9 343.3,340.4 343.4,340.8 343.6,341.3 343.7,341.7 343.8,342.1 343.9,342.5 344.1,342.8 344.2,343.2 344.3,343.5 344.5,343.9 344.6,344.2 344.7,344.5 344.8,344.7 345.0,345.0 345.1,345.3 345.2,345.5 345.3,345.8 345.5,346.0 345.6,346.2 345.7,346.5 345.9,346.7 346.0,346.9 346.1,347.1 346.2,347.3 346.4,347.5 346.5,347.6 346.6,347.8 346.7,348.0 346.9,348.1 347.0,348.3 347.1,348.4 347.3,348.6 347.4,348.7 347.5,348.9 347.6,349.0 347.8,349.2 347.9,349.3 348.0,349.4 348.1,349.5 348.3,349.6 348.4,349.8 348.5,349.9 348.7,350.0 348.8,350.1 348.9,350.2 349.0,350.3 349.2,350.4 349.3,350.5 349.4,350.6 349.5,350.7 349.7,350.8 349.8,350.9 349.9,350.9 350.1,351.0 350.2,351.1 350.3,351.2 350.4,351.3 350.6,351.3 350.7,351.4 350.8,351.5 350.9,351.6 351.1,351.6 351.2,351.7 351.3,351.8 351.5,351.8 351.6,351.9 351.7,352.0 351.8,352.0 352.0,352.1 352.1,352.2 352.2,352.2 352.3,352.3 352.5,352.3 352.6,352.4 352.7,352.4 352.8,352.5 353.0,352.6 353.1,352.6 353.2,352.7 353.4,352.7 353.5,352.8 353.6,352.8 353.7,352.9 353.9,352.9 354.0,353.0 354.1,353.0 354.2,353.0 354.4,353.1 354.5,353.1 354.6,353.2 354.8,353.2 354.9,353.3 355.0,353.3 355.1,353.3 355.3,353.4 355.4,353.4 355.5,353.5 355.6,353.5 355.8,353.5 355.9,353.6 356.0,353.6 356.2,353.6 356.3,353.7 356.4,353.7 356.5,353.7 356.7,353.8 356.8,353.8 356.9,353.8 357.0,353.9 357.2,353.9 357.3,353.9 357.4,354.0 357.6,354.0 357.7,354.0 357.8,354.1 357.9,354.1 358.1,354.1 358.2,354.2 358.3,354.2 359.4,354.4 360.4,354.6 361.5,354.8 362.5,355.0 363.6,355.1 364.6,355.3 365.6,355.4 366.7,355.5 367.7,355.6 368.8,355.7 369.8,355.9 370.9,355.9 371.9,356.0 373.0,356.1 374.0,356.2 375.1,356.3 376.1,356.4 377.2,356.4 378.2,356.5 379.2,356.6 380.3,356.7 381.3,356.7 382.4,356.8 383.4,356.8 384.5,356.9 385.5,357.0 386.6,357.0 387.6,357.1 388.7,357.1 389.7,357.2 390.8,357.2 391.8,357.3 392.9,357.3 393.9,357.4 394.9,357.4 396.0,357.5 397.0,357.5 398.1,357.6 399.1,357.6 400.2,357.7 401.2,357.7 402.3,357.8 403.3,357.8 404.4,357.9 405.4,357.9 406.5,358.0 407.5,358.0 408.5,358.1 409.6,358.1 410.6,358.2 411.7,358.2 412.7,358.3 413.8,358.3 414.8,358.4 415.9,358.4 416.9,358.5 418.0,358.5 419.0,358.6 420.1,358.6 421.1,358.7 422.2,358.7 423.2,358.8 424.2,358.9 425.3,358.9 426.3,359.0 427.4,359.1 428.4,359.1 429.5,359.2 430.5,359.3 431.6,359.3 432.6,359.4 433.7,359.5 434.7,359.6 435.8,359.6 436.8,359.7 437.8,359.8 438.9,359.9 439.9,360.0 441.0,360.1 442.0,360.1 443.1,360.2 444.1,360.3 445.2,360.4 446.2,360.5 447.3,360.6 448.3,360.7 449.4,360.9 450.4,361.0 451.5,361.1 452.5,361.2 453.5,361.3 454.6,361.5 455.6,361.6 456.7,361.7 457.7,361.9 458.8,362.0 459.8,362.2 460.9,362.3 461.9,362.5 463.0,362.6 464.0,362.8 465.1,363.0 466.1,363.1 467.1,363.3 468.2,363.5 469.2,363.7 470.3,363.9 471.3,364.1 472.4,364.3 473.4,364.5 474.5,364.7 475.5,365.0 476.6,365.2 477.6,365.4 478.7,365.7 479.7,365.9 480.8,366.2 481.8,366.5 482.8,366.7 483.9,367.0 484.9,367.3 486.0,367.6 487.0,367.9 488.1,368.2 489.1,368.6 490.2,368.9 491.2,369.2 492.3,369.6 493.3,369.9 494.4,370.3 495.4,370.7 496.4,371.1 497.5,371.4 498.5,371.8 499.6,372.3 500.6,372.7 501.7,373.1 502.7,373.5 503.8,374.0 504.8,374.4 505.9,374.9 506.9,375.4 508.0,375.9 509.0,376.3 510.1,376.8 511.1,377.3 512.1,377.9 513.2,378.4 514.2,378.9 515.3,379.4 516.3,380.0 517.4,380.5 518.4,381.0 519.5,381.6 520.5,382.1 521.6,382.7 522.6,383.3 523.7,383.8 524.7,384.4 525.7,385.0 526.8,385.5 527.8,386.1 528.9,386.7 529.9,387.2 531.0,387.8 532.0,388.4 533.1,388.9 534.1,389.5 535.2,390.0 536.2,390.6 537.3,391.1 538.3,391.7 539.4,392.2 540.4,392.7 541.4,393.2 542.5,393.8 543.5,394.3 544.6,394.8 545.6,395.3 546.7,395.7 547.7,396.2 548.8,396.7 549.8,397.2 550.9,397.6 551.9,398.1 553.0,398.5 554.0,398.9 555.0,399.3 556.1,399.7 557.1,400.1 558.2,400.5 559.2,400.9 560.3,401.2 561.3,401.6 562.4,401.9 563.4,402.2 564.5,402.5 565.5,402.9 566.6,403.2 567.6,403.5 568.7,403.7 569.7,404.0 570.7,404.3 571.8,404.5 572.8,404.8 573.9,405.0 574.9,405.3 576.0,405.5 577.0,405.7 578.1,406.0 579.1,406.2 580.2,406.4 581.2,406.6 582.3,406.8 583.3,406.9 584.3,407.1 585.4,407.3 586.4,407.5 587.5,407.6 588.5,407.8 589.6,407.9 590.6,408.1 591.7,408.2 592.7,408.4 593.8,408.5 594.8,408.6 595.9,408.7 596.9,408.9 598.0,409.0 599.0,409.1 600.0,409.2 601.1,409.3 602.1,409.4 603.2,409.5 604.2,409.6 605.3,409.7 606.3,409.8 607.4,409.8 608.4,409.9 609.5,410.0 610.5,410.1 611.6,410.1 612.6,410.2 613.6,410.3 614.7,410.3 615.7,410.4 616.8,410.4 617.8,410.5 618.9,410.5 619.9,410.6 621.0,410.6 622.0,410.7 623.1,410.7 624.1,410.8 625.2,410.8 626.2,410.9 627.3,410.9 628.3,410.9 629.3,411.0 630.4,411.0 631.4,411.0 632.5,411.0 633.5,411.1 634.6,411.1 635.6,411.1 636.7,411.1 637.7,411.2 638.8,411.2 639.8,411.2 640.9,411.2 641.9,411.2 642.9,411.3 644.0,411.3 645.0,411.3 646.1,411.3 647.1,411.3 648.2,411.3 649.2,411.3 650.3,411.3 651.3,411.3 652.4,411.3 653.4,411.3 654.5,411.4 655.5,411.4 656.6,411.4 657.6,411.4 658.6,411.4 659.7,411.4 660.7,411.4 661.8,411.4 662.8,411.4 663.9,411.4 664.9,411.4 666.0,411.4 667.0,411.4 668.1,411.4 669.1,411.3 670.2,411.3 671.2,411.3" class="cr"/>
<text x="53.5" y="46.0" class="tl" text-anchor="end">100</text>
<text x="53.5" y="93.8" class="tl" text-anchor="end">50</text>
<text x="53.5" y="141.7" class="tl" text-anchor="end">0</text>
<text x="53.5" y="189.6" class="tl" text-anchor="end">-50</text>
<text x="53.5" y="237.4" class="tl" text-anchor="end">-100</text>
<text x="53.5" y="250.8" class="tl" text-anchor="end">90</text>
<text x="53.5" y="307.2" class="tl" text-anchor="end">0</text>
<text x="53.5" y="363.6" class="tl" text-anchor="end">-90</text>
<text x="53.5" y="420.0" class="tl" text-anchor="end">-180</text>
<text x="60.7" y="441" class="tl" text-anchor="middle">10<tspan class="sup" dy="-7.5">-1</tspan></text>
<text x="137.0" y="441" class="tl" text-anchor="middle">10<tspan class="sup" dy="-7.5">0</tspan></text>
<text x="213.3" y="441" class="tl" text-anchor="middle">10<tspan class="sup" dy="-7.5">1</tspan></text>
<text x="289.6" y="441" class="tl" text-anchor="middle">10<tspan class="sup" dy="-7.5">2</tspan></text>
<text x="365.9" y="441" class="tl" text-anchor="middle">10<tspan class="sup" dy="-7.5">3</tspan></text>
<text x="442.3" y="441" class="tl" text-anchor="middle">10<tspan class="sup" dy="-7.5">4</tspan></text>
<text x="518.6" y="441" class="tl" text-anchor="middle">10<tspan class="sup" dy="-7.5">5</tspan></text>
<text x="594.9" y="441" class="tl" text-anchor="middle">10<tspan class="sup" dy="-7.5">6</tspan></text>
<text x="671.2" y="441" class="tl" text-anchor="middle">10<tspan class="sup" dy="-7.5">7</tspan></text>
<text x="291.5" y="461" class="al" textLength="145" lengthAdjust="spacingAndGlyphs" xml:space="preserve">Frequency  (rad/s)</text>
<text transform="translate(14.5,196) rotate(-90)" class="al" textLength="122" lengthAdjust="spacingAndGlyphs">Magnitude (dB)</text>
<text transform="translate(14.5,375.4) rotate(-90)" class="al" textLength="95" lengthAdjust="spacingAndGlyphs">Phase (deg)</text>
<text x="316.5" y="11.3" class="tt" textLength="96" lengthAdjust="spacingAndGlyphs">Bode Diagram</text>
<text x="168" y="29.2" class="tt" textLength="392" lengthAdjust="spacingAndGlyphs" xml:space="preserve">Gm = Inf dB (at Inf rad/s) ,  Pm = 70 deg (at 3.78e+04 rad/s)</text>
<text x="345" y="499" class="cap" text-anchor="middle">(a)</text>
<text x="345" y="884" class="cap" text-anchor="middle">(b)</text>
<rect x="37" y="510.2" width="618.2" height="341" fill="url(#hatch)" stroke="#2a2a2a" stroke-width="2"/>
<rect x="40.2" y="584.8" width="59.8" height="55.6" rx="0.8" fill="#ffff00" stroke="#2e2e2e" stroke-width="1.9"/>
<rect x="148.3" y="584.1" width="60.7" height="54.7" rx="0.8" fill="#ffc000" stroke="#2e2e2e" stroke-width="1.9"/>
<rect x="530.7" y="586.2" width="60.4" height="55.1" rx="0.8" fill="#8a78ae" stroke="#2e2e2e" stroke-width="1.9"/>
<rect x="304.3" y="675.5" width="59.1" height="53.6" rx="0.8" fill="#8a78ae" stroke="#2e2e2e" stroke-width="1.9"/>
<rect x="508.2" y="672.6" width="59.4" height="55.5" rx="0.8" fill="#ffc000" stroke="#2e2e2e" stroke-width="1.9"/>
<rect x="509.8" y="766.8" width="60.2" height="54.5" rx="0.8" fill="#8a78ae" stroke="#2e2e2e" stroke-width="1.9"/>
<circle cx="282.1" cy="615.1" r="26.0" fill="#00b0f0" stroke="#111" stroke-width="2"/>
<line x1="263.9" y1="596.9" x2="300.3" y2="633.3" class="xl"/>
<line x1="263.9" y1="633.3" x2="300.3" y2="596.9" class="xl"/>
<path d="M274.3 599.9H287.5M280.9 594.3V605.5" fill="none" stroke="#0d4664" stroke-width="2.8"/>
<path d="M290.8 615.1H302.8" fill="none" stroke="#0d4664" stroke-width="3.0"/>
<circle cx="72.1" cy="705.0" r="26.0" fill="#00b0f0" stroke="#111" stroke-width="2"/>
<line x1="53.9" y1="686.8" x2="90.3" y2="723.2" class="xl"/>
<line x1="53.9" y1="723.2" x2="90.3" y2="686.8" class="xl"/>
<path d="M64.6 688.4H77.6" fill="none" stroke="#111" stroke-width="1.7"/>
<path d="M65.8 721.8H77.8" fill="none" stroke="#111" stroke-width="1.7"/>
<circle cx="430.8" cy="703.4" r="26.0" fill="#00b0f0" stroke="#111" stroke-width="2"/>
<line x1="412.6" y1="685.2" x2="449.0" y2="721.6" class="xl"/>
<line x1="412.6" y1="721.6" x2="449.0" y2="685.2" class="xl"/>
<path d="M408.7 702.9H420.7M414.7 697.4V708.4" fill="none" stroke="#111" stroke-width="1.6"/>
<path d="M424.0 719.5H436.6M430.3 713.4V725.6" fill="none" stroke="#111" stroke-width="1.6"/>
<polyline points="305.9,536.0 279.6,536.0 279.6,566.0" class="ln"/>
<path d="M278.7 585.8 L269.1 565.8 L279.6 568.0 L290.1 565.8 L280.5 585.8 Z" class="ah"/>
<polyline points="351.8,535.5 395.2,535.5" class="ln"/>
<polyline points="327.0,613.5 347.0,613.5" class="ln"/>
<path d="M309.2 612.6 L329.2 603.0 L327.0 613.5 L329.2 624.0 L309.2 614.4 Z" class="ah"/>
<polyline points="440.0,614.3 462.2,614.3" class="ln"/>
<path d="M421.5 613.4 L441.5 603.8 L439.3 614.3 L441.5 624.8 L421.5 615.2 Z" class="ah"/>
<polyline points="501.6,614.0 529.7,614.0" class="ln"/>
<polyline points="610.0,614.2 623.6,614.2 623.6,680.0" class="ln"/>
<path d="M592.8 613.3 L612.8 603.7 L610.6 614.2 L612.8 624.7 L592.8 615.1 Z" class="ah"/>
<polyline points="623.6,720.0 623.6,827.0 300.0,827.0" class="ln"/>
<path d="M283.2 826.1 L303.2 816.5 L301.0 827.0 L303.2 837.5 L283.2 827.9 Z" class="ah"/>
<polyline points="220.1,827.0 72.5,827.0 72.5,752.0" class="ln"/>
<path d="M71.6 733.0 L62.0 753.0 L72.5 750.8 L83.0 753.0 L73.4 733.0 Z" class="ah"/>
<polyline points="254.9,615.2 229.0,615.2" class="ln"/>
<path d="M211.0 614.3 L231.0 604.7 L228.8 615.2 L231.0 625.7 L211.0 616.1 Z" class="ah"/>
<polyline points="147.4,614.1 120.0,614.1" class="ln"/>
<path d="M101.8 613.2 L121.8 603.6 L119.6 614.1 L121.8 624.6 L101.8 615.0 Z" class="ah"/>
<polyline points="70.2,641.0 70.2,659.0" class="ln"/>
<path d="M69.3 677.3 L59.7 657.3 L70.2 659.5 L80.7 657.3 L71.1 677.3 Z" class="ah"/>
<polyline points="98.4,704.7 120.0,704.7" class="ln"/>
<path d="M137.5 703.8 L117.5 694.2 L119.7 704.7 L117.5 715.2 L137.5 705.6 Z" class="ah"/>
<polyline points="192.0,704.7 213.0,704.7" class="ln"/>
<path d="M231.8 703.8 L211.8 694.2 L214.0 704.7 L211.8 715.2 L231.8 705.6 Z" class="ah"/>
<polyline points="264.8,704.3 286.0,704.3" class="ln"/>
<path d="M303.4 703.4 L283.4 693.8 L285.6 704.3 L283.4 714.8 L303.4 705.2 Z" class="ah"/>
<polyline points="364.4,703.5 386.0,703.5" class="ln"/>
<path d="M403.9 702.6 L383.9 693.0 L386.1 703.5 L383.9 714.0 L403.9 704.4 Z" class="ah"/>
<polyline points="457.5,701.4 489.0,701.4" class="ln"/>
<path d="M507.3 700.5 L487.3 690.9 L489.5 701.4 L487.3 711.9 L507.3 702.3 Z" class="ah"/>
<polyline points="568.6,700.0 597.1,700.0" class="ln"/>
<polyline points="623.7,795.6 590.0,795.6" class="ln"/>
<path d="M570.9 794.7 L590.9 785.1 L588.7 795.6 L590.9 806.1 L570.9 796.5 Z" class="ah"/>
<polyline points="508.8,795.6 430.3,795.6 430.3,755.0" class="ln"/>
<path d="M429.4 736.5 L419.8 756.5 L430.3 754.3 L440.8 756.5 L431.2 736.5 Z" class="ah"/>
<text x="312.0" y="542.0" class="bl" text-anchor="start">r(t)</text>
<text x="399.0" y="538.5" class="rd" text-anchor="start">V<tspan class="sb" dy="5">cout-ref</tspan></text>
<text x="348.0" y="624.0" class="rd" text-anchor="start">V<tspan class="sb" dy="4">cout</tspan><tspan dy="-4">(t)</tspan></text>
<text x="465.0" y="619.0" class="bl" text-anchor="start">y(t)</text>
<text x="237.5" y="605.2" class="bl" text-anchor="start">q</text>
<text x="130.5" y="605.5" class="bl" text-anchor="start">q</text>
<circle cx="246.7" cy="585.7" r="2.2" fill="#1414d8"/>
<text x="69.8" y="619.7" class="bk lb" text-anchor="middle">[K<tspan class="sb" dy="4">q</tspan><tspan dy="-4">]</tspan></text>
<path d="M188.3 604.6 C187.6 602.8 186 602 184.8 602.4 C183.6 602.8 183 604 182.6 605.3 L176.4 620.8 C175.8 622.4 175 624.2 173.4 624.3 C172.2 624.4 171.3 623.5 171 622.6" class="ig"/>
<text x="561.1" y="622.6" class="bk lb" text-anchor="middle">[C]</text>
<text x="146.8" y="711.0" class="bl" text-anchor="start">u(t)</text>
<text x="241.0" y="710.0" class="rd" text-anchor="start">d</text>
<text x="333.7" y="710.5" class="bk lb" text-anchor="middle">[B]</text>
<path d="M188.3 604.6 C187.6 602.8 186 602 184.8 602.4 C183.6 602.8 183 604 182.6 605.3 L176.4 620.8 C175.8 622.4 175 624.2 173.4 624.3 C172.2 624.4 171.3 623.5 171 622.6" class="ig" transform="translate(358.6,87.3)"/>
<text x="603.5" y="707.0" class="bl" text-anchor="start">x(t)</text>
<text x="540.0" y="801.6" class="bk lb" text-anchor="middle">[A]</text>
<text x="251.2" y="832.2" class="bk lb" text-anchor="middle">[K<tspan class="sb" dy="4">x</tspan><tspan dy="-4">]</tspan></text>
</svg>
</body></html>
